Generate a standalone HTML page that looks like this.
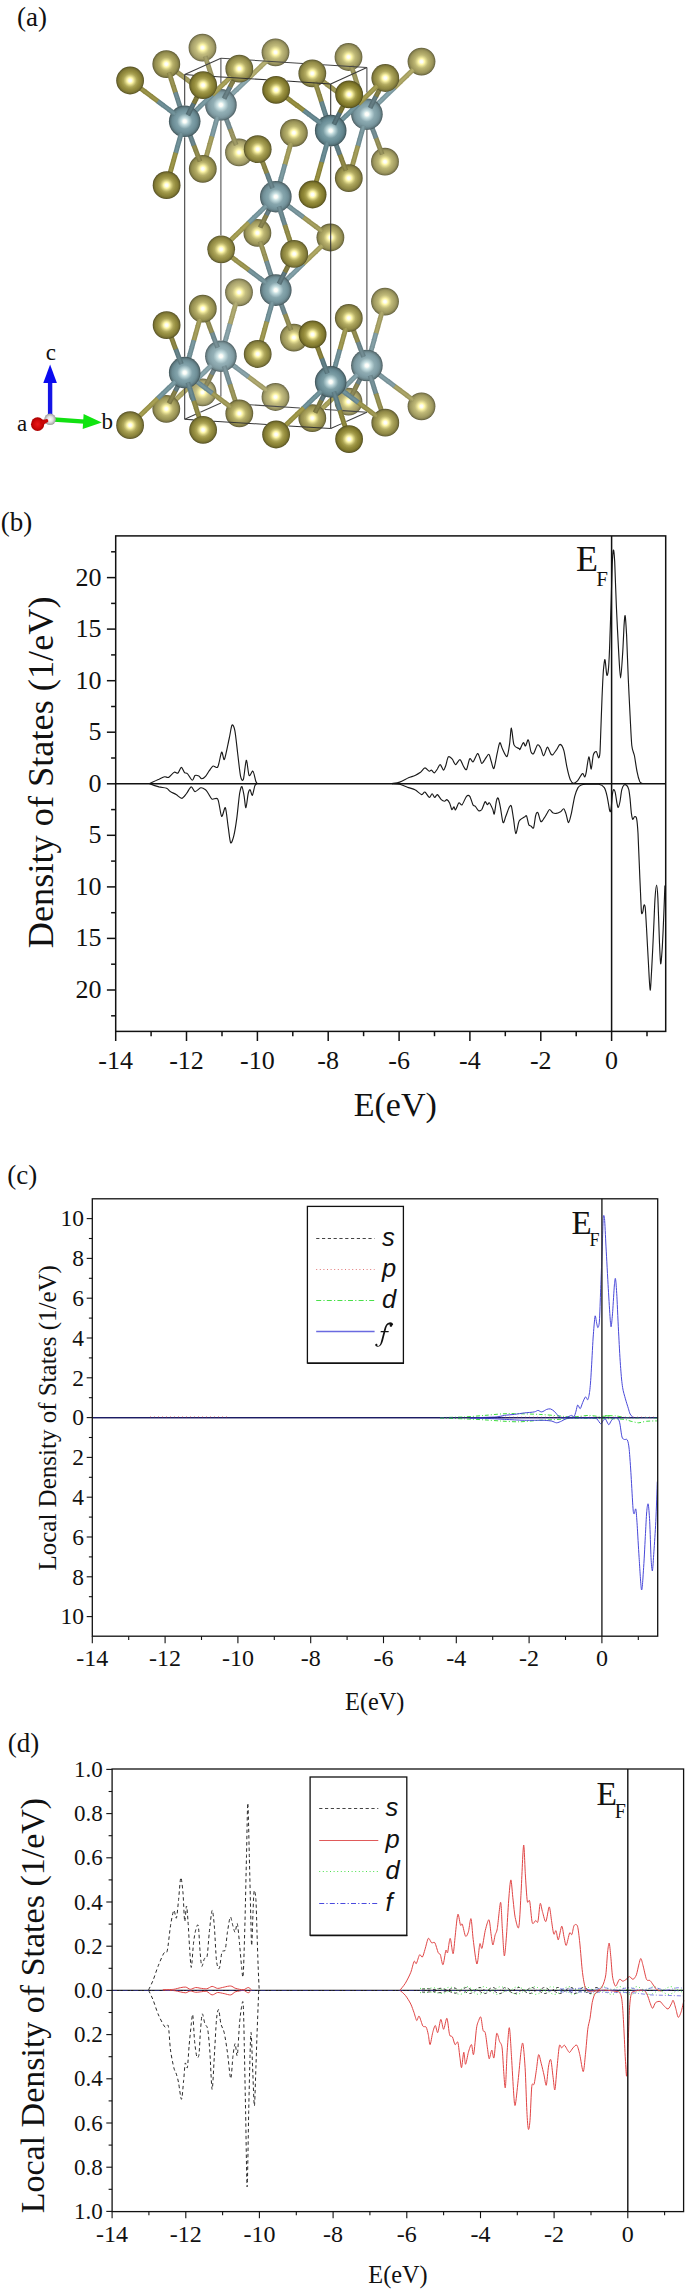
<!DOCTYPE html>
<html><head><meta charset="utf-8"><title>Figure</title><style>html,body{margin:0;padding:0;background:#fff}svg{display:block}</style></head><body><svg width="685" height="2291" viewBox="0 0 685 2291"><defs><radialGradient id="g1"><stop offset="0.00" stop-color="#ffffff"/><stop offset="0.10" stop-color="#fcfdf8"/><stop offset="0.22" stop-color="#c8e0e2"/><stop offset="0.34" stop-color="#a8c4c9"/><stop offset="0.48" stop-color="#83a3ab"/><stop offset="0.64" stop-color="#7799a1"/><stop offset="0.80" stop-color="#6c8b93"/><stop offset="0.91" stop-color="#5a757b"/><stop offset="1.00" stop-color="#3f5155"/></radialGradient><radialGradient id="g2"><stop offset="0.00" stop-color="#ffffff"/><stop offset="0.10" stop-color="#fcfdf8"/><stop offset="0.22" stop-color="#c7dfe2"/><stop offset="0.34" stop-color="#a7c3c8"/><stop offset="0.48" stop-color="#80a1a9"/><stop offset="0.64" stop-color="#74969f"/><stop offset="0.80" stop-color="#698991"/><stop offset="0.91" stop-color="#58737a"/><stop offset="1.00" stop-color="#3d5054"/></radialGradient><radialGradient id="g3"><stop offset="0.00" stop-color="#ffffff"/><stop offset="0.10" stop-color="#fcfdf8"/><stop offset="0.22" stop-color="#c6dee1"/><stop offset="0.34" stop-color="#a4c1c6"/><stop offset="0.48" stop-color="#7d9fa6"/><stop offset="0.64" stop-color="#70939c"/><stop offset="0.80" stop-color="#65868f"/><stop offset="0.91" stop-color="#557178"/><stop offset="1.00" stop-color="#3b4e53"/></radialGradient><radialGradient id="g4"><stop offset="0.00" stop-color="#ffffff"/><stop offset="0.10" stop-color="#fcfdf8"/><stop offset="0.22" stop-color="#c5dee0"/><stop offset="0.34" stop-color="#a3c0c5"/><stop offset="0.48" stop-color="#7a9da4"/><stop offset="0.64" stop-color="#6d919a"/><stop offset="0.80" stop-color="#62848c"/><stop offset="0.91" stop-color="#526f76"/><stop offset="1.00" stop-color="#394d52"/></radialGradient><radialGradient id="g5"><stop offset="0.00" stop-color="#ffffff"/><stop offset="0.10" stop-color="#fdfdf8"/><stop offset="0.22" stop-color="#cee4e6"/><stop offset="0.34" stop-color="#b4cdd1"/><stop offset="0.48" stop-color="#95b1b7"/><stop offset="0.64" stop-color="#8ba7ae"/><stop offset="0.80" stop-color="#7f9aa0"/><stop offset="0.91" stop-color="#6a8186"/><stop offset="1.00" stop-color="#49595d"/></radialGradient><radialGradient id="g6"><stop offset="0.00" stop-color="#ffffff"/><stop offset="0.10" stop-color="#fdfdf8"/><stop offset="0.22" stop-color="#cde4e6"/><stop offset="0.34" stop-color="#b2cbcf"/><stop offset="0.48" stop-color="#92afb5"/><stop offset="0.64" stop-color="#88a5ac"/><stop offset="0.80" stop-color="#7c979e"/><stop offset="0.91" stop-color="#687f85"/><stop offset="1.00" stop-color="#48585c"/></radialGradient><radialGradient id="g7"><stop offset="0.00" stop-color="#ffffff"/><stop offset="0.10" stop-color="#fcfdf8"/><stop offset="0.22" stop-color="#cce3e5"/><stop offset="0.34" stop-color="#b0cace"/><stop offset="0.48" stop-color="#8facb2"/><stop offset="0.64" stop-color="#84a2aa"/><stop offset="0.80" stop-color="#78959c"/><stop offset="0.91" stop-color="#657d82"/><stop offset="1.00" stop-color="#46565a"/></radialGradient><radialGradient id="g8"><stop offset="0.00" stop-color="#ffffff"/><stop offset="0.10" stop-color="#fcfdf8"/><stop offset="0.22" stop-color="#cbe2e4"/><stop offset="0.34" stop-color="#aec8cd"/><stop offset="0.48" stop-color="#8caab1"/><stop offset="0.64" stop-color="#81a0a7"/><stop offset="0.80" stop-color="#75929a"/><stop offset="0.91" stop-color="#627b81"/><stop offset="1.00" stop-color="#445559"/></radialGradient><radialGradient id="g9"><stop offset="0.00" stop-color="#ffffff"/><stop offset="0.10" stop-color="#fcfdf8"/><stop offset="0.22" stop-color="#c9e1e3"/><stop offset="0.34" stop-color="#abc6cb"/><stop offset="0.48" stop-color="#88a7ae"/><stop offset="0.64" stop-color="#7c9da4"/><stop offset="0.80" stop-color="#718f97"/><stop offset="0.91" stop-color="#5f787e"/><stop offset="1.00" stop-color="#425357"/></radialGradient><radialGradient id="g10"><stop offset="0.00" stop-color="#ffffff"/><stop offset="0.10" stop-color="#fcfdf8"/><stop offset="0.22" stop-color="#c9e1e3"/><stop offset="0.34" stop-color="#abc6ca"/><stop offset="0.48" stop-color="#87a6ad"/><stop offset="0.64" stop-color="#7b9ca4"/><stop offset="0.80" stop-color="#708e96"/><stop offset="0.91" stop-color="#5e777e"/><stop offset="1.00" stop-color="#415357"/></radialGradient><radialGradient id="g11"><stop offset="0.00" stop-color="#ffffff"/><stop offset="0.10" stop-color="#fdfdf6"/><stop offset="0.22" stop-color="#fdf6a8"/><stop offset="0.34" stop-color="#d6cf82"/><stop offset="0.48" stop-color="#b0a85c"/><stop offset="0.64" stop-color="#9b9347"/><stop offset="0.80" stop-color="#8b843d"/><stop offset="0.91" stop-color="#746e33"/><stop offset="1.00" stop-color="#514c23"/></radialGradient><radialGradient id="g12"><stop offset="0.00" stop-color="#ffffff"/><stop offset="0.10" stop-color="#fdfdf6"/><stop offset="0.22" stop-color="#fdf6a8"/><stop offset="0.34" stop-color="#d5ce80"/><stop offset="0.48" stop-color="#ada657"/><stop offset="0.64" stop-color="#989041"/><stop offset="0.80" stop-color="#888038"/><stop offset="0.91" stop-color="#726c2f"/><stop offset="1.00" stop-color="#4f4b20"/></radialGradient><radialGradient id="g13"><stop offset="0.00" stop-color="#ffffff"/><stop offset="0.10" stop-color="#fdfdf6"/><stop offset="0.22" stop-color="#fdf6a8"/><stop offset="0.34" stop-color="#d5ce80"/><stop offset="0.48" stop-color="#aea658"/><stop offset="0.64" stop-color="#989042"/><stop offset="0.80" stop-color="#888139"/><stop offset="0.91" stop-color="#726c2f"/><stop offset="1.00" stop-color="#4f4b21"/></radialGradient><radialGradient id="g14"><stop offset="0.00" stop-color="#ffffff"/><stop offset="0.10" stop-color="#fdfdf6"/><stop offset="0.22" stop-color="#fdf6a8"/><stop offset="0.34" stop-color="#d4cd7e"/><stop offset="0.48" stop-color="#aca454"/><stop offset="0.64" stop-color="#958d3d"/><stop offset="0.80" stop-color="#867e33"/><stop offset="0.91" stop-color="#706a2b"/><stop offset="1.00" stop-color="#4e491e"/></radialGradient><radialGradient id="g15"><stop offset="0.00" stop-color="#ffffff"/><stop offset="0.10" stop-color="#fdfdf6"/><stop offset="0.22" stop-color="#fdf6a8"/><stop offset="0.34" stop-color="#d4cd7e"/><stop offset="0.48" stop-color="#aca455"/><stop offset="0.64" stop-color="#968e3e"/><stop offset="0.80" stop-color="#867e34"/><stop offset="0.91" stop-color="#706a2c"/><stop offset="1.00" stop-color="#4e491e"/></radialGradient><radialGradient id="g16"><stop offset="0.00" stop-color="#ffffff"/><stop offset="0.10" stop-color="#fdfdf6"/><stop offset="0.22" stop-color="#fdf6a8"/><stop offset="0.34" stop-color="#d3cc7c"/><stop offset="0.48" stop-color="#aaa251"/><stop offset="0.64" stop-color="#938a39"/><stop offset="0.80" stop-color="#837b2f"/><stop offset="0.91" stop-color="#6e6728"/><stop offset="1.00" stop-color="#4c481b"/></radialGradient><radialGradient id="g17"><stop offset="0.00" stop-color="#ffffff"/><stop offset="0.10" stop-color="#fdfdf6"/><stop offset="0.22" stop-color="#fdf6a8"/><stop offset="0.34" stop-color="#d3cc7d"/><stop offset="0.48" stop-color="#aaa251"/><stop offset="0.64" stop-color="#938b3a"/><stop offset="0.80" stop-color="#847c30"/><stop offset="0.91" stop-color="#6e6828"/><stop offset="1.00" stop-color="#4c481c"/></radialGradient><radialGradient id="g18"><stop offset="0.00" stop-color="#ffffff"/><stop offset="0.10" stop-color="#fdfcf6"/><stop offset="0.22" stop-color="#fdf6a8"/><stop offset="0.34" stop-color="#d2cb7a"/><stop offset="0.48" stop-color="#a8a04d"/><stop offset="0.64" stop-color="#908834"/><stop offset="0.80" stop-color="#81792b"/><stop offset="0.91" stop-color="#6c6524"/><stop offset="1.00" stop-color="#4b4619"/></radialGradient><radialGradient id="g19"><stop offset="0.00" stop-color="#ffffff"/><stop offset="0.10" stop-color="#fdfdf7"/><stop offset="0.22" stop-color="#fef7a9"/><stop offset="0.34" stop-color="#dcd58c"/><stop offset="0.48" stop-color="#bbb46f"/><stop offset="0.64" stop-color="#a8a25f"/><stop offset="0.80" stop-color="#989255"/><stop offset="0.91" stop-color="#807a47"/><stop offset="1.00" stop-color="#585531"/></radialGradient><radialGradient id="g20"><stop offset="0.00" stop-color="#ffffff"/><stop offset="0.10" stop-color="#fdfdf7"/><stop offset="0.22" stop-color="#fef7a9"/><stop offset="0.34" stop-color="#dbd48a"/><stop offset="0.48" stop-color="#b8b16b"/><stop offset="0.64" stop-color="#a59e5a"/><stop offset="0.80" stop-color="#958f50"/><stop offset="0.91" stop-color="#7d7843"/><stop offset="1.00" stop-color="#57532e"/></radialGradient><radialGradient id="g21"><stop offset="0.00" stop-color="#ffffff"/><stop offset="0.10" stop-color="#fdfdf7"/><stop offset="0.22" stop-color="#fef7a9"/><stop offset="0.34" stop-color="#dbd48a"/><stop offset="0.48" stop-color="#b9b26c"/><stop offset="0.64" stop-color="#a69f5b"/><stop offset="0.80" stop-color="#968f51"/><stop offset="0.91" stop-color="#7e7844"/><stop offset="1.00" stop-color="#57532f"/></radialGradient><radialGradient id="g22"><stop offset="0.00" stop-color="#ffffff"/><stop offset="0.10" stop-color="#fdfdf7"/><stop offset="0.22" stop-color="#fef7a9"/><stop offset="0.34" stop-color="#dad388"/><stop offset="0.48" stop-color="#b6af68"/><stop offset="0.64" stop-color="#a39c56"/><stop offset="0.80" stop-color="#938c4c"/><stop offset="0.91" stop-color="#7b763f"/><stop offset="1.00" stop-color="#55522c"/></radialGradient><radialGradient id="g23"><stop offset="0.00" stop-color="#ffffff"/><stop offset="0.10" stop-color="#fdfdf7"/><stop offset="0.22" stop-color="#fef7a9"/><stop offset="0.34" stop-color="#dad388"/><stop offset="0.48" stop-color="#b7b068"/><stop offset="0.64" stop-color="#a49c57"/><stop offset="0.80" stop-color="#948d4d"/><stop offset="0.91" stop-color="#7c7640"/><stop offset="1.00" stop-color="#56522c"/></radialGradient><radialGradient id="g24"><stop offset="0.00" stop-color="#ffffff"/><stop offset="0.10" stop-color="#fdfdf7"/><stop offset="0.22" stop-color="#fef7a9"/><stop offset="0.34" stop-color="#d9d286"/><stop offset="0.48" stop-color="#b5ad64"/><stop offset="0.64" stop-color="#a19951"/><stop offset="0.80" stop-color="#918a47"/><stop offset="0.91" stop-color="#79743c"/><stop offset="1.00" stop-color="#545029"/></radialGradient><radialGradient id="g25"><stop offset="0.00" stop-color="#ffffff"/><stop offset="0.10" stop-color="#fdfdf7"/><stop offset="0.22" stop-color="#fef7a9"/><stop offset="0.34" stop-color="#d9d287"/><stop offset="0.48" stop-color="#b5ae65"/><stop offset="0.64" stop-color="#a19a52"/><stop offset="0.80" stop-color="#918a48"/><stop offset="0.91" stop-color="#7a743d"/><stop offset="1.00" stop-color="#54502a"/></radialGradient><radialGradient id="g26"><stop offset="0.00" stop-color="#ffffff"/><stop offset="0.10" stop-color="#fdfdf6"/><stop offset="0.22" stop-color="#fef7a9"/><stop offset="0.34" stop-color="#d8d184"/><stop offset="0.48" stop-color="#b3ab61"/><stop offset="0.64" stop-color="#9e974d"/><stop offset="0.80" stop-color="#8e8743"/><stop offset="0.91" stop-color="#777138"/><stop offset="1.00" stop-color="#534f27"/></radialGradient><radialGradient id="g27"><stop offset="0.00" stop-color="#ffffff"/><stop offset="0.10" stop-color="#fdfdf7"/><stop offset="0.22" stop-color="#fef7a9"/><stop offset="0.34" stop-color="#e2db96"/><stop offset="0.48" stop-color="#c6c083"/><stop offset="0.64" stop-color="#b6b078"/><stop offset="0.80" stop-color="#a6a16d"/><stop offset="0.91" stop-color="#8b875c"/><stop offset="1.00" stop-color="#605d3f"/></radialGradient><radialGradient id="g28"><stop offset="0.00" stop-color="#ffffff"/><stop offset="0.10" stop-color="#fdfdf7"/><stop offset="0.22" stop-color="#fef7a9"/><stop offset="0.34" stop-color="#e0da94"/><stop offset="0.48" stop-color="#c3bd7e"/><stop offset="0.64" stop-color="#b3ad73"/><stop offset="0.80" stop-color="#a39d68"/><stop offset="0.91" stop-color="#898457"/><stop offset="1.00" stop-color="#5f5b3c"/></radialGradient><radialGradient id="g29"><stop offset="0.00" stop-color="#ffffff"/><stop offset="0.10" stop-color="#fdfdf7"/><stop offset="0.22" stop-color="#fef7a9"/><stop offset="0.34" stop-color="#e1da94"/><stop offset="0.48" stop-color="#c4bd7f"/><stop offset="0.64" stop-color="#b4ae74"/><stop offset="0.80" stop-color="#a39e69"/><stop offset="0.91" stop-color="#898558"/><stop offset="1.00" stop-color="#5f5c3d"/></radialGradient><radialGradient id="g30"><stop offset="0.00" stop-color="#ffffff"/><stop offset="0.10" stop-color="#fdfdf7"/><stop offset="0.22" stop-color="#fef7a9"/><stop offset="0.34" stop-color="#dfd992"/><stop offset="0.48" stop-color="#c1bb7b"/><stop offset="0.64" stop-color="#b1ab6e"/><stop offset="0.80" stop-color="#a19b64"/><stop offset="0.91" stop-color="#878254"/><stop offset="1.00" stop-color="#5d5a3a"/></radialGradient><radialGradient id="g31"><stop offset="0.00" stop-color="#ffffff"/><stop offset="0.10" stop-color="#fdfdf7"/><stop offset="0.22" stop-color="#fef7a9"/><stop offset="0.34" stop-color="#e0d992"/><stop offset="0.48" stop-color="#c2bb7c"/><stop offset="0.64" stop-color="#b1ab6f"/><stop offset="0.80" stop-color="#a19b65"/><stop offset="0.91" stop-color="#878254"/><stop offset="1.00" stop-color="#5e5a3a"/></radialGradient><radialGradient id="g32"><stop offset="0.00" stop-color="#ffffff"/><stop offset="0.10" stop-color="#fdfdf7"/><stop offset="0.22" stop-color="#fef7a9"/><stop offset="0.34" stop-color="#ded890"/><stop offset="0.48" stop-color="#bfb978"/><stop offset="0.64" stop-color="#aea86a"/><stop offset="0.80" stop-color="#9e9860"/><stop offset="0.91" stop-color="#858050"/><stop offset="1.00" stop-color="#5c5837"/></radialGradient><radialGradient id="g33"><stop offset="0.00" stop-color="#ffffff"/><stop offset="0.10" stop-color="#fdfdf7"/><stop offset="0.22" stop-color="#fef7a9"/><stop offset="0.34" stop-color="#dfd891"/><stop offset="0.48" stop-color="#c0b978"/><stop offset="0.64" stop-color="#afa96b"/><stop offset="0.80" stop-color="#9f9960"/><stop offset="0.91" stop-color="#858051"/><stop offset="1.00" stop-color="#5c5938"/></radialGradient><radialGradient id="g34"><stop offset="0.00" stop-color="#ffffff"/><stop offset="0.10" stop-color="#fdfdf7"/><stop offset="0.22" stop-color="#fef7a9"/><stop offset="0.34" stop-color="#ddd78e"/><stop offset="0.48" stop-color="#bdb774"/><stop offset="0.64" stop-color="#aca566"/><stop offset="0.80" stop-color="#9c965b"/><stop offset="0.91" stop-color="#837e4d"/><stop offset="1.00" stop-color="#5a5735"/></radialGradient><radialGradient id="g35"><stop offset="0.00" stop-color="#ffffff"/><stop offset="0.10" stop-color="#fdfdf6"/><stop offset="0.22" stop-color="#fef7a9"/><stop offset="0.34" stop-color="#d8d084"/><stop offset="0.48" stop-color="#b2ab60"/><stop offset="0.64" stop-color="#9e964c"/><stop offset="0.80" stop-color="#8e8742"/><stop offset="0.91" stop-color="#777137"/><stop offset="1.00" stop-color="#524e26"/></radialGradient><radialGradient id="g36"><stop offset="0.00" stop-color="#ffffff"/><stop offset="0.10" stop-color="#fdfdf6"/><stop offset="0.22" stop-color="#fdf6a9"/><stop offset="0.34" stop-color="#d7cf82"/><stop offset="0.48" stop-color="#b0a95c"/><stop offset="0.64" stop-color="#9b9348"/><stop offset="0.80" stop-color="#8b843e"/><stop offset="0.91" stop-color="#756f34"/><stop offset="1.00" stop-color="#514d24"/></radialGradient><radialGradient id="g37"><stop offset="0.00" stop-color="#ffffff"/><stop offset="0.10" stop-color="#fdfdf7"/><stop offset="0.22" stop-color="#fef7a9"/><stop offset="0.34" stop-color="#ddd68e"/><stop offset="0.48" stop-color="#bdb673"/><stop offset="0.64" stop-color="#aba565"/><stop offset="0.80" stop-color="#9b955a"/><stop offset="0.91" stop-color="#827d4c"/><stop offset="1.00" stop-color="#5a5734"/></radialGradient><radialGradient id="g38"><stop offset="0.00" stop-color="#ffffff"/><stop offset="0.10" stop-color="#fdfdf7"/><stop offset="0.22" stop-color="#fef7a9"/><stop offset="0.34" stop-color="#dcd58c"/><stop offset="0.48" stop-color="#bbb470"/><stop offset="0.64" stop-color="#a9a260"/><stop offset="0.80" stop-color="#999356"/><stop offset="0.91" stop-color="#807b48"/><stop offset="1.00" stop-color="#595532"/></radialGradient><radialGradient id="g39"><stop offset="0.00" stop-color="#ffffff"/><stop offset="0.10" stop-color="#fdfdf6"/><stop offset="0.22" stop-color="#fdf6a8"/><stop offset="0.34" stop-color="#d6ce80"/><stop offset="0.48" stop-color="#aea659"/><stop offset="0.64" stop-color="#989143"/><stop offset="0.80" stop-color="#898139"/><stop offset="0.91" stop-color="#736c30"/><stop offset="1.00" stop-color="#4f4b21"/></radialGradient><radialGradient id="g40"><stop offset="0.00" stop-color="#ffffff"/><stop offset="0.10" stop-color="#fdfdf6"/><stop offset="0.22" stop-color="#fdf6a8"/><stop offset="0.34" stop-color="#d5ce7f"/><stop offset="0.48" stop-color="#ada557"/><stop offset="0.64" stop-color="#978f41"/><stop offset="0.80" stop-color="#888037"/><stop offset="0.91" stop-color="#726b2e"/><stop offset="1.00" stop-color="#4f4a20"/></radialGradient><radialGradient id="g41"><stop offset="0.00" stop-color="#ffffff"/><stop offset="0.10" stop-color="#fdfdf6"/><stop offset="0.22" stop-color="#fdf6a8"/><stop offset="0.34" stop-color="#d4cc7d"/><stop offset="0.48" stop-color="#aaa252"/><stop offset="0.64" stop-color="#948b3a"/><stop offset="0.80" stop-color="#847c31"/><stop offset="0.91" stop-color="#6f6829"/><stop offset="1.00" stop-color="#4d481c"/></radialGradient><radialGradient id="g42"><stop offset="0.00" stop-color="#ffffff"/><stop offset="0.10" stop-color="#fdfdf6"/><stop offset="0.22" stop-color="#fdf6a8"/><stop offset="0.34" stop-color="#d3cc7c"/><stop offset="0.48" stop-color="#a9a150"/><stop offset="0.64" stop-color="#928a38"/><stop offset="0.80" stop-color="#837b2f"/><stop offset="0.91" stop-color="#6e6727"/><stop offset="1.00" stop-color="#4c471b"/></radialGradient><radialGradient id="g43"><stop offset="0.00" stop-color="#ffffff"/><stop offset="0.10" stop-color="#fdfdf7"/><stop offset="0.22" stop-color="#fef7a9"/><stop offset="0.34" stop-color="#dbd48a"/><stop offset="0.48" stop-color="#b9b26c"/><stop offset="0.64" stop-color="#a69f5c"/><stop offset="0.80" stop-color="#969051"/><stop offset="0.91" stop-color="#7e7944"/><stop offset="1.00" stop-color="#57542f"/></radialGradient><radialGradient id="g44"><stop offset="0.00" stop-color="#ffffff"/><stop offset="0.10" stop-color="#fdfdf7"/><stop offset="0.22" stop-color="#fef7a9"/><stop offset="0.34" stop-color="#dbd489"/><stop offset="0.48" stop-color="#b8b16b"/><stop offset="0.64" stop-color="#a59e59"/><stop offset="0.80" stop-color="#958f4f"/><stop offset="0.91" stop-color="#7d7842"/><stop offset="1.00" stop-color="#57532e"/></radialGradient><radialGradient id="g45"><stop offset="0.00" stop-color="#ffffff"/><stop offset="0.10" stop-color="#fdfdf7"/><stop offset="0.22" stop-color="#fef7a9"/><stop offset="0.34" stop-color="#d9d287"/><stop offset="0.48" stop-color="#b5ae65"/><stop offset="0.64" stop-color="#a19a53"/><stop offset="0.80" stop-color="#928b49"/><stop offset="0.91" stop-color="#7a743d"/><stop offset="1.00" stop-color="#55512a"/></radialGradient><radialGradient id="g46"><stop offset="0.00" stop-color="#ffffff"/><stop offset="0.10" stop-color="#fdfdf7"/><stop offset="0.22" stop-color="#fef7a9"/><stop offset="0.34" stop-color="#d9d286"/><stop offset="0.48" stop-color="#b4ad64"/><stop offset="0.64" stop-color="#a09951"/><stop offset="0.80" stop-color="#908947"/><stop offset="0.91" stop-color="#79733b"/><stop offset="1.00" stop-color="#545029"/></radialGradient><radialGradient id="g47"><stop offset="0.00" stop-color="#ffffff"/><stop offset="0.10" stop-color="#fdfdf7"/><stop offset="0.22" stop-color="#fef7a9"/><stop offset="0.34" stop-color="#e1da94"/><stop offset="0.48" stop-color="#c4be80"/><stop offset="0.64" stop-color="#b4ae74"/><stop offset="0.80" stop-color="#a49e6a"/><stop offset="0.91" stop-color="#898559"/><stop offset="1.00" stop-color="#5f5c3d"/></radialGradient><radialGradient id="g48"><stop offset="0.00" stop-color="#ffffff"/><stop offset="0.10" stop-color="#fdfdf7"/><stop offset="0.22" stop-color="#fef7a9"/><stop offset="0.34" stop-color="#e0da93"/><stop offset="0.48" stop-color="#c3bd7e"/><stop offset="0.64" stop-color="#b3ad72"/><stop offset="0.80" stop-color="#a39d67"/><stop offset="0.91" stop-color="#888457"/><stop offset="1.00" stop-color="#5e5b3c"/></radialGradient><radialGradient id="g49"><stop offset="0.00" stop-color="#ffffff"/><stop offset="0.10" stop-color="#fdfdf7"/><stop offset="0.22" stop-color="#fef7a9"/><stop offset="0.34" stop-color="#dfd891"/><stop offset="0.48" stop-color="#c0ba79"/><stop offset="0.64" stop-color="#afa96c"/><stop offset="0.80" stop-color="#9f9961"/><stop offset="0.91" stop-color="#858151"/><stop offset="1.00" stop-color="#5c5938"/></radialGradient><radialGradient id="g50"><stop offset="0.00" stop-color="#ffffff"/><stop offset="0.10" stop-color="#fdfdf7"/><stop offset="0.22" stop-color="#fef7a9"/><stop offset="0.34" stop-color="#ded890"/><stop offset="0.48" stop-color="#bfb977"/><stop offset="0.64" stop-color="#aea86a"/><stop offset="0.80" stop-color="#9e985f"/><stop offset="0.91" stop-color="#847f50"/><stop offset="1.00" stop-color="#5c5837"/></radialGradient><radialGradient id="g51"><stop offset="0.00" stop-color="#ffffff"/><stop offset="0.10" stop-color="#fdfdf6"/><stop offset="0.22" stop-color="#fef7a9"/><stop offset="0.34" stop-color="#d7d084"/><stop offset="0.48" stop-color="#b2aa5f"/><stop offset="0.64" stop-color="#9d964b"/><stop offset="0.80" stop-color="#8d8642"/><stop offset="0.91" stop-color="#777137"/><stop offset="1.00" stop-color="#524e26"/></radialGradient><radialGradient id="g52"><stop offset="0.00" stop-color="#ffffff"/><stop offset="0.10" stop-color="#fdfdf6"/><stop offset="0.22" stop-color="#fdf6a9"/><stop offset="0.34" stop-color="#d7cf82"/><stop offset="0.48" stop-color="#b1a95d"/><stop offset="0.64" stop-color="#9b9448"/><stop offset="0.80" stop-color="#8c843e"/><stop offset="0.91" stop-color="#756f34"/><stop offset="1.00" stop-color="#514d24"/></radialGradient><radialGradient id="g53"><stop offset="0.00" stop-color="#ffffff"/><stop offset="0.10" stop-color="#fdfdf7"/><stop offset="0.22" stop-color="#fef7a9"/><stop offset="0.34" stop-color="#ddd68e"/><stop offset="0.48" stop-color="#bdb673"/><stop offset="0.64" stop-color="#aba464"/><stop offset="0.80" stop-color="#9b955a"/><stop offset="0.91" stop-color="#827d4b"/><stop offset="1.00" stop-color="#5a5634"/></radialGradient><radialGradient id="g54"><stop offset="0.00" stop-color="#ffffff"/><stop offset="0.10" stop-color="#fdfdf7"/><stop offset="0.22" stop-color="#fef7a9"/><stop offset="0.34" stop-color="#dcd58c"/><stop offset="0.48" stop-color="#bbb570"/><stop offset="0.64" stop-color="#a9a361"/><stop offset="0.80" stop-color="#999357"/><stop offset="0.91" stop-color="#817b49"/><stop offset="1.00" stop-color="#595532"/></radialGradient>
<radialGradient id="go"><stop offset="0" stop-color="#ffffff"/><stop offset="0.5" stop-color="#e0e0e0"/><stop offset="1" stop-color="#9a9a9a"/></radialGradient>
<radialGradient id="gr"><stop offset="0" stop-color="#e81818"/><stop offset="0.6" stop-color="#d00808"/><stop offset="1" stop-color="#a80000"/></radialGradient>
</defs>
<filter id="bl" x="-5%" y="-5%" width="110%" height="110%"><feGaussianBlur stdDeviation="0.45"/></filter>
<g stroke-linecap="butt" fill="none" filter="url(#bl)"><circle cx="202.5" cy="392.4" r="13.9" fill="url(#g27)"/><path d="M207.5 382.5L205.2 387.0" stroke="#837e54" stroke-width="4.9"/><path d="M207.5 382.5L205.2 387.0" stroke="#918d60" stroke-width="2.3"/><path d="M209.7 378.3L207.4 382.8" stroke="#827e53" stroke-width="4.9"/><path d="M209.7 378.3L207.4 382.8" stroke="#918c5f" stroke-width="2.3"/><circle cx="275.5" cy="397.0" r="13.9" fill="url(#g29)"/><path d="M211.8 374.1L209.5 378.6" stroke="#817d52" stroke-width="4.9"/><path d="M211.8 374.1L209.5 378.6" stroke="#908c5e" stroke-width="2.3"/><circle cx="239.0" cy="292.3" r="13.9" fill="url(#g47)"/><path d="M260.5 385.8L267.3 390.9" stroke="#9f9a65" stroke-width="4.9"/><path d="M260.5 385.8L267.3 390.9" stroke="#afaa72" stroke-width="2.3"/><path d="M213.8 370.2L211.6 374.5" stroke="#66797e" stroke-width="4.9"/><path d="M213.8 370.2L211.6 374.5" stroke="#73888c" stroke-width="2.3"/><path d="M233.9 310.2L236.2 302.3" stroke="#a19b66" stroke-width="4.9"/><path d="M233.9 310.2L236.2 302.3" stroke="#b1ac73" stroke-width="2.3"/><path d="M254.2 381.1L261.1 386.2" stroke="#9f9964" stroke-width="4.9"/><path d="M254.2 381.1L261.1 386.2" stroke="#afa971" stroke-width="2.3"/><path d="M231.9 317.4L234.1 309.5" stroke="#a09b65" stroke-width="4.9"/><path d="M231.9 317.4L234.1 309.5" stroke="#b0ab72" stroke-width="2.3"/><path d="M247.9 376.4L254.8 381.5" stroke="#9e9963" stroke-width="4.9"/><path d="M247.9 376.4L254.8 381.5" stroke="#aea970" stroke-width="2.3"/><path d="M215.8 366.3L213.6 370.6" stroke="#65797d" stroke-width="4.9"/><path d="M215.8 366.3L213.6 370.6" stroke="#72878c" stroke-width="2.3"/><path d="M229.9 324.6L232.1 316.7" stroke="#a09a64" stroke-width="4.9"/><path d="M229.9 324.6L232.1 316.7" stroke="#b0aa71" stroke-width="2.3"/><path d="M242.1 372.0L248.5 376.8" stroke="#7c949a" stroke-width="4.9"/><path d="M242.1 372.0L248.5 376.8" stroke="#8aa4aa" stroke-width="2.3"/><path d="M228.0 331.3L230.0 323.9" stroke="#7d969b" stroke-width="4.9"/><path d="M228.0 331.3L230.0 323.9" stroke="#8ba5ac" stroke-width="2.3"/><path d="M217.7 362.4L215.6 366.7" stroke="#64787d" stroke-width="4.9"/><path d="M217.7 362.4L215.6 366.7" stroke="#71868b" stroke-width="2.3"/><circle cx="348.5" cy="401.7" r="13.9" fill="url(#g31)"/><circle cx="239.0" cy="152.4" r="13.9" fill="url(#g48)"/><path d="M236.2 367.6L242.6 372.4" stroke="#7b949a" stroke-width="4.9"/><path d="M236.2 367.6L242.6 372.4" stroke="#89a3aa" stroke-width="2.3"/><path d="M226.1 338.0L228.2 330.6" stroke="#7c959b" stroke-width="4.9"/><path d="M226.1 338.0L228.2 330.6" stroke="#8ba5ab" stroke-width="2.3"/><circle cx="202.5" cy="47.7" r="13.9" fill="url(#g28)"/><path d="M230.4 363.3L236.8 368.0" stroke="#7a9399" stroke-width="4.9"/><path d="M230.4 363.3L236.8 368.0" stroke="#89a3a9" stroke-width="2.3"/><path d="M224.2 344.6L226.3 337.3" stroke="#7b949a" stroke-width="4.9"/><path d="M224.2 344.6L226.3 337.3" stroke="#8aa4aa" stroke-width="2.3"/><path d="M233.9 139.1L236.2 145.0" stroke="#8e8a59" stroke-width="4.9"/><path d="M233.9 139.1L236.2 145.0" stroke="#9e9965" stroke-width="2.3"/><path d="M353.5 391.8L351.2 396.3" stroke="#807b4e" stroke-width="4.9"/><path d="M353.5 391.8L351.2 396.3" stroke="#8e8a5a" stroke-width="2.3"/><circle cx="220.9" cy="356.2" r="15.8" fill="url(#g5)"/><path d="M207.5 63.4L205.2 56.2" stroke="#96915e" stroke-width="4.9"/><path d="M207.5 63.4L205.2 56.2" stroke="#a5a06b" stroke-width="2.3"/><path d="M231.9 133.8L234.1 139.6" stroke="#8e8958" stroke-width="4.9"/><path d="M231.9 133.8L234.1 139.6" stroke="#9d9864" stroke-width="2.3"/><path d="M211.4 365.3L205.0 371.5" stroke="#7d989f" stroke-width="4.9"/><path d="M211.4 365.3L205.0 371.5" stroke="#8ca8af" stroke-width="2.3"/><path d="M209.7 70.0L207.4 62.8" stroke="#95905d" stroke-width="4.9"/><path d="M209.7 70.0L207.4 62.8" stroke="#a59f69" stroke-width="2.3"/><path d="M355.7 387.6L353.4 392.1" stroke="#7f7b4d" stroke-width="4.9"/><path d="M355.7 387.6L353.4 392.1" stroke="#8d8959" stroke-width="2.3"/><path d="M205.6 370.9L199.2 377.1" stroke="#7d989e" stroke-width="4.9"/><path d="M205.6 370.9L199.2 377.1" stroke="#8ba8ae" stroke-width="2.3"/><path d="M229.9 128.4L232.1 134.2" stroke="#8d8857" stroke-width="4.9"/><path d="M229.9 128.4L232.1 134.2" stroke="#9c9763" stroke-width="2.3"/><path d="M199.7 376.6L193.3 382.7" stroke="#7c979e" stroke-width="4.9"/><path d="M199.7 376.6L193.3 382.7" stroke="#8aa7ae" stroke-width="2.3"/><circle cx="421.5" cy="406.3" r="13.9" fill="url(#g33)"/><path d="M224.1 366.1L226.2 372.8" stroke="#70888e" stroke-width="4.9"/><path d="M224.1 366.1L226.2 372.8" stroke="#7e979d" stroke-width="2.3"/><path d="M211.8 76.6L209.5 69.4" stroke="#948f5b" stroke-width="4.9"/><path d="M211.8 76.6L209.5 69.4" stroke="#a49f68" stroke-width="2.3"/><path d="M217.6 347.6L215.5 342.1" stroke="#6a8287" stroke-width="4.9"/><path d="M217.6 347.6L215.5 342.1" stroke="#789096" stroke-width="2.3"/><path d="M193.9 382.2L187.0 388.8" stroke="#a19b5e" stroke-width="4.9"/><path d="M193.9 382.2L187.0 388.8" stroke="#b2ab6a" stroke-width="2.3"/><path d="M357.8 383.4L355.5 387.9" stroke="#7e7a4c" stroke-width="4.9"/><path d="M357.8 383.4L355.5 387.9" stroke="#8d8858" stroke-width="2.3"/><circle cx="385.0" cy="301.6" r="13.9" fill="url(#g49)"/><circle cx="275.5" cy="52.3" r="13.9" fill="url(#g30)"/><path d="M228.0 123.4L230.0 128.9" stroke="#6e8489" stroke-width="4.9"/><path d="M228.0 123.4L230.0 128.9" stroke="#7b9398" stroke-width="2.3"/><path d="M187.6 388.3L180.7 394.9" stroke="#a19b5d" stroke-width="4.9"/><path d="M187.6 388.3L180.7 394.9" stroke="#b1ab69" stroke-width="2.3"/><path d="M226.1 372.2L228.2 378.9" stroke="#6f888d" stroke-width="4.9"/><path d="M226.1 372.2L228.2 378.9" stroke="#7d979d" stroke-width="2.3"/><path d="M213.8 82.7L211.6 76.0" stroke="#738b90" stroke-width="4.9"/><path d="M213.8 82.7L211.6 76.0" stroke="#819aa0" stroke-width="2.3"/><path d="M215.7 342.6L213.6 337.2" stroke="#6a8187" stroke-width="4.9"/><path d="M215.7 342.6L213.6 337.2" stroke="#779096" stroke-width="2.3"/><path d="M181.3 394.3L174.5 400.9" stroke="#a09a5c" stroke-width="4.9"/><path d="M181.3 394.3L174.5 400.9" stroke="#b1aa68" stroke-width="2.3"/><path d="M406.5 395.1L413.3 400.2" stroke="#9b965d" stroke-width="4.9"/><path d="M406.5 395.1L413.3 400.2" stroke="#aca66a" stroke-width="2.3"/><path d="M260.5 66.8L267.3 60.2" stroke="#a5a065" stroke-width="4.9"/><path d="M260.5 66.8L267.3 60.2" stroke="#b6b073" stroke-width="2.3"/><path d="M226.1 118.5L228.2 123.9" stroke="#6d8389" stroke-width="4.9"/><path d="M226.1 118.5L228.2 123.9" stroke="#7a9298" stroke-width="2.3"/><path d="M359.8 379.5L357.6 383.8" stroke="#61767b" stroke-width="4.9"/><path d="M359.8 379.5L357.6 383.8" stroke="#6e8489" stroke-width="2.3"/><path d="M228.0 378.4L230.2 385.1" stroke="#6e878d" stroke-width="4.9"/><path d="M228.0 378.4L230.2 385.1" stroke="#7c969c" stroke-width="2.3"/><path d="M379.9 319.5L382.2 311.6" stroke="#9d975f" stroke-width="4.9"/><path d="M379.9 319.5L382.2 311.6" stroke="#ada76b" stroke-width="2.3"/><path d="M215.7 88.9L213.6 82.2" stroke="#728a90" stroke-width="4.9"/><path d="M215.7 88.9L213.6 82.2" stroke="#80999f" stroke-width="2.3"/><path d="M254.2 72.8L261.1 66.2" stroke="#a59f65" stroke-width="4.9"/><path d="M254.2 72.8L261.1 66.2" stroke="#b5af72" stroke-width="2.3"/><path d="M213.8 337.7L211.8 332.2" stroke="#698086" stroke-width="4.9"/><path d="M213.8 337.7L211.8 332.2" stroke="#768f95" stroke-width="2.3"/><path d="M400.2 390.4L407.1 395.5" stroke="#9b955c" stroke-width="4.9"/><path d="M400.2 390.4L407.1 395.5" stroke="#aba569" stroke-width="2.3"/><circle cx="166.3" cy="408.8" r="13.9" fill="url(#g19)"/><path d="M247.9 78.9L254.8 72.3" stroke="#a49e64" stroke-width="4.9"/><path d="M247.9 78.9L254.8 72.3" stroke="#b5af71" stroke-width="2.3"/><path d="M377.9 326.7L380.1 318.8" stroke="#9c975d" stroke-width="4.9"/><path d="M377.9 326.7L380.1 318.8" stroke="#ada76a" stroke-width="2.3"/><path d="M224.2 113.5L226.3 119.0" stroke="#6c8388" stroke-width="4.9"/><path d="M224.2 113.5L226.3 119.0" stroke="#799297" stroke-width="2.3"/><path d="M230.0 384.5L232.3 391.7" stroke="#908a52" stroke-width="4.9"/><path d="M230.0 384.5L232.3 391.7" stroke="#9f995e" stroke-width="2.3"/><path d="M217.7 95.0L215.6 88.3" stroke="#71898f" stroke-width="4.9"/><path d="M217.7 95.0L215.6 88.3" stroke="#7f989f" stroke-width="2.3"/><path d="M393.9 385.7L400.8 390.8" stroke="#9a955b" stroke-width="4.9"/><path d="M393.9 385.7L400.8 390.8" stroke="#aaa568" stroke-width="2.3"/><path d="M361.8 375.6L359.6 379.9" stroke="#60757a" stroke-width="4.9"/><path d="M361.8 375.6L359.6 379.9" stroke="#6d8388" stroke-width="2.3"/><path d="M242.1 84.5L248.5 78.4" stroke="#7f9aa0" stroke-width="4.9"/><path d="M242.1 84.5L248.5 78.4" stroke="#8eaab0" stroke-width="2.3"/><circle cx="293.9" cy="337.6" r="13.9" fill="url(#g53)"/><path d="M211.9 332.7L209.7 326.9" stroke="#89844e" stroke-width="4.9"/><path d="M211.9 332.7L209.7 326.9" stroke="#98935a" stroke-width="2.3"/><path d="M375.9 333.9L378.1 326.0" stroke="#9c965c" stroke-width="4.9"/><path d="M375.9 333.9L378.1 326.0" stroke="#aca669" stroke-width="2.3"/><path d="M236.2 90.2L242.6 84.0" stroke="#7e999f" stroke-width="4.9"/><path d="M236.2 90.2L242.6 84.0" stroke="#8da9b0" stroke-width="2.3"/><circle cx="257.4" cy="232.9" r="13.9" fill="url(#g37)"/><path d="M388.1 381.3L394.5 386.1" stroke="#769096" stroke-width="4.9"/><path d="M388.1 381.3L394.5 386.1" stroke="#849fa6" stroke-width="2.3"/><path d="M232.1 391.1L234.4 398.3" stroke="#8f8a51" stroke-width="4.9"/><path d="M232.1 391.1L234.4 398.3" stroke="#9e995d" stroke-width="2.3"/><path d="M230.4 95.8L236.8 89.6" stroke="#7e999f" stroke-width="4.9"/><path d="M230.4 95.8L236.8 89.6" stroke="#8ca8af" stroke-width="2.3"/><path d="M374.0 340.6L376.0 333.2" stroke="#779198" stroke-width="4.9"/><path d="M374.0 340.6L376.0 333.2" stroke="#85a1a7" stroke-width="2.3"/><path d="M363.7 371.7L361.6 376.0" stroke="#5f757a" stroke-width="4.9"/><path d="M363.7 371.7L361.6 376.0" stroke="#6c8388" stroke-width="2.3"/><path d="M209.9 327.3L207.7 321.5" stroke="#88834d" stroke-width="4.9"/><path d="M209.9 327.3L207.7 321.5" stroke="#979259" stroke-width="2.3"/><circle cx="385.0" cy="161.7" r="13.9" fill="url(#g50)"/><path d="M382.2 376.9L388.6 381.7" stroke="#758f96" stroke-width="4.9"/><path d="M382.2 376.9L388.6 381.7" stroke="#839fa5" stroke-width="2.3"/><path d="M171.3 398.9L169.0 403.4" stroke="#7a7543" stroke-width="4.9"/><path d="M171.3 398.9L169.0 403.4" stroke="#88834f" stroke-width="2.3"/><path d="M372.1 347.3L374.2 339.9" stroke="#769197" stroke-width="4.9"/><path d="M372.1 347.3L374.2 339.9" stroke="#85a0a7" stroke-width="2.3"/><path d="M234.3 397.7L236.6 404.9" stroke="#8e8950" stroke-width="4.9"/><path d="M234.3 397.7L236.6 404.9" stroke="#9e985c" stroke-width="2.3"/><circle cx="220.9" cy="104.9" r="15.8" fill="url(#g6)"/><circle cx="348.5" cy="57.0" r="13.9" fill="url(#g32)"/><path d="M288.8 324.3L291.1 330.2" stroke="#89844e" stroke-width="4.9"/><path d="M288.8 324.3L291.1 330.2" stroke="#98935a" stroke-width="2.3"/><path d="M376.4 372.6L382.8 377.3" stroke="#758f95" stroke-width="4.9"/><path d="M376.4 372.6L382.8 377.3" stroke="#829ea5" stroke-width="2.3"/><path d="M207.9 322.0L205.6 316.1" stroke="#88834c" stroke-width="4.9"/><path d="M207.9 322.0L205.6 316.1" stroke="#979158" stroke-width="2.3"/><path d="M370.2 353.9L372.3 346.6" stroke="#769096" stroke-width="4.9"/><path d="M370.2 353.9L372.3 346.6" stroke="#84a0a6" stroke-width="2.3"/><path d="M262.4 248.6L260.1 241.4" stroke="#908b53" stroke-width="4.9"/><path d="M262.4 248.6L260.1 241.4" stroke="#9f9a5f" stroke-width="2.3"/><path d="M173.5 394.7L171.2 399.2" stroke="#797542" stroke-width="4.9"/><path d="M173.5 394.7L171.2 399.2" stroke="#88834d" stroke-width="2.3"/><path d="M262.4 223.0L260.1 227.5" stroke="#7c7747" stroke-width="4.9"/><path d="M262.4 223.0L260.1 227.5" stroke="#8a8552" stroke-width="2.3"/><path d="M286.8 319.0L289.0 324.8" stroke="#88834d" stroke-width="4.9"/><path d="M286.8 319.0L289.0 324.8" stroke="#979259" stroke-width="2.3"/><path d="M217.6 116.5L215.5 123.8" stroke="#759096" stroke-width="4.9"/><path d="M217.6 116.5L215.5 123.8" stroke="#839fa6" stroke-width="2.3"/><path d="M379.9 148.4L382.2 154.3" stroke="#8b8652" stroke-width="4.9"/><path d="M379.9 148.4L382.2 154.3" stroke="#9a955e" stroke-width="2.3"/><path d="M264.6 255.2L262.3 248.0" stroke="#8f8a51" stroke-width="4.9"/><path d="M264.6 255.2L262.3 248.0" stroke="#9f995d" stroke-width="2.3"/><path d="M211.4 97.8L205.0 93.1" stroke="#748f95" stroke-width="4.9"/><path d="M211.4 97.8L205.0 93.1" stroke="#829ea5" stroke-width="2.3"/><circle cx="239.3" cy="413.4" r="13.9" fill="url(#g21)"/><circle cx="366.9" cy="365.5" r="15.8" fill="url(#g7)"/><path d="M353.5 72.7L351.2 65.5" stroke="#928d57" stroke-width="4.9"/><path d="M353.5 72.7L351.2 65.5" stroke="#a29c63" stroke-width="2.3"/><path d="M215.7 123.1L213.6 130.5" stroke="#748f96" stroke-width="4.9"/><path d="M215.7 123.1L213.6 130.5" stroke="#829fa5" stroke-width="2.3"/><path d="M284.8 313.6L287.0 319.4" stroke="#88834c" stroke-width="4.9"/><path d="M284.8 313.6L287.0 319.4" stroke="#979158" stroke-width="2.3"/><path d="M205.6 93.5L199.2 88.7" stroke="#748e95" stroke-width="4.9"/><path d="M205.6 93.5L199.2 88.7" stroke="#829ea4" stroke-width="2.3"/><path d="M175.6 390.5L173.3 395.0" stroke="#797441" stroke-width="4.9"/><path d="M175.6 390.5L173.3 395.0" stroke="#87824c" stroke-width="2.3"/><circle cx="202.8" cy="308.7" r="13.9" fill="url(#g43)"/><path d="M264.6 218.8L262.3 223.3" stroke="#7b7746" stroke-width="4.9"/><path d="M264.6 218.8L262.3 223.3" stroke="#8a8551" stroke-width="2.3"/><path d="M266.7 261.8L264.4 254.6" stroke="#8f8950" stroke-width="4.9"/><path d="M266.7 261.8L264.4 254.6" stroke="#9e985c" stroke-width="2.3"/><path d="M377.9 143.1L380.1 148.9" stroke="#8a8551" stroke-width="4.9"/><path d="M377.9 143.1L380.1 148.9" stroke="#99945d" stroke-width="2.3"/><path d="M224.1 98.7L226.2 94.4" stroke="#5e7479" stroke-width="4.9"/><path d="M224.1 98.7L226.2 94.4" stroke="#6b8287" stroke-width="2.3"/><path d="M213.8 129.8L211.8 137.2" stroke="#748f95" stroke-width="4.9"/><path d="M213.8 129.8L211.8 137.2" stroke="#829ea5" stroke-width="2.3"/><path d="M357.4 374.6L351.0 380.8" stroke="#77949b" stroke-width="4.9"/><path d="M357.4 374.6L351.0 380.8" stroke="#85a3ab" stroke-width="2.3"/><path d="M355.7 79.3L353.4 72.1" stroke="#918c56" stroke-width="4.9"/><path d="M355.7 79.3L353.4 72.1" stroke="#a19c62" stroke-width="2.3"/><path d="M199.7 89.1L193.3 84.3" stroke="#738e94" stroke-width="4.9"/><path d="M199.7 89.1L193.3 84.3" stroke="#819da4" stroke-width="2.3"/><circle cx="330.4" cy="237.5" r="13.9" fill="url(#g38)"/><path d="M224.3 402.2L231.1 407.3" stroke="#958f50" stroke-width="4.9"/><path d="M224.3 402.2L231.1 407.3" stroke="#a49e5c" stroke-width="2.3"/><path d="M282.9 308.6L284.9 314.1" stroke="#657e84" stroke-width="4.9"/><path d="M282.9 308.6L284.9 314.1" stroke="#728c92" stroke-width="2.3"/><path d="M351.6 380.2L345.2 386.4" stroke="#77939a" stroke-width="4.9"/><path d="M351.6 380.2L345.2 386.4" stroke="#85a3aa" stroke-width="2.3"/><path d="M211.9 136.5L209.7 144.4" stroke="#989356" stroke-width="4.9"/><path d="M211.9 136.5L209.7 144.4" stroke="#a8a262" stroke-width="2.3"/><path d="M268.7 267.9L266.5 261.2" stroke="#6a848a" stroke-width="4.9"/><path d="M268.7 267.9L266.5 261.2" stroke="#78939a" stroke-width="2.3"/><path d="M177.6 386.6L175.4 390.9" stroke="#586f75" stroke-width="4.9"/><path d="M177.6 386.6L175.4 390.9" stroke="#657d83" stroke-width="2.3"/><path d="M375.9 137.7L378.1 143.5" stroke="#8a8550" stroke-width="4.9"/><path d="M375.9 137.7L378.1 143.5" stroke="#99945c" stroke-width="2.3"/><path d="M266.7 214.6L264.4 219.1" stroke="#7b7645" stroke-width="4.9"/><path d="M266.7 214.6L264.4 219.1" stroke="#898450" stroke-width="2.3"/><path d="M197.7 326.6L200.0 318.7" stroke="#969051" stroke-width="4.9"/><path d="M197.7 326.6L200.0 318.7" stroke="#a6a05d" stroke-width="2.3"/><circle cx="293.9" cy="132.8" r="13.9" fill="url(#g54)"/><path d="M345.7 385.9L339.3 392.0" stroke="#76939a" stroke-width="4.9"/><path d="M345.7 385.9L339.3 392.0" stroke="#84a2aa" stroke-width="2.3"/><path d="M226.0 94.8L228.2 90.5" stroke="#5d7378" stroke-width="4.9"/><path d="M226.0 94.8L228.2 90.5" stroke="#6a8186" stroke-width="2.3"/><path d="M193.9 84.7L187.0 79.6" stroke="#979255" stroke-width="4.9"/><path d="M193.9 84.7L187.0 79.6" stroke="#a7a161" stroke-width="2.3"/><path d="M370.1 375.4L372.2 382.1" stroke="#6a848a" stroke-width="4.9"/><path d="M370.1 375.4L372.2 382.1" stroke="#78939a" stroke-width="2.3"/><path d="M357.8 85.9L355.5 78.7" stroke="#918c54" stroke-width="4.9"/><path d="M357.8 85.9L355.5 78.7" stroke="#a09b61" stroke-width="2.3"/><path d="M218.0 397.5L224.9 402.6" stroke="#948e4f" stroke-width="4.9"/><path d="M218.0 397.5L224.9 402.6" stroke="#a49d5b" stroke-width="2.3"/><path d="M315.4 252.0L322.2 245.4" stroke="#9f9959" stroke-width="4.9"/><path d="M315.4 252.0L322.2 245.4" stroke="#afa965" stroke-width="2.3"/><path d="M363.6 356.9L361.5 351.4" stroke="#657e84" stroke-width="4.9"/><path d="M363.6 356.9L361.5 351.4" stroke="#728c93" stroke-width="2.3"/><path d="M209.9 143.7L207.7 151.6" stroke="#989254" stroke-width="4.9"/><path d="M209.9 143.7L207.7 151.6" stroke="#a8a261" stroke-width="2.3"/><path d="M281.0 303.7L283.1 309.1" stroke="#647d83" stroke-width="4.9"/><path d="M281.0 303.7L283.1 309.1" stroke="#728c92" stroke-width="2.3"/><path d="M339.9 391.5L333.0 398.1" stroke="#9d9756" stroke-width="4.9"/><path d="M339.9 391.5L333.0 398.1" stroke="#ada762" stroke-width="2.3"/><path d="M195.7 333.8L197.9 325.9" stroke="#968f50" stroke-width="4.9"/><path d="M195.7 333.8L197.9 325.9" stroke="#a59f5c" stroke-width="2.3"/><path d="M270.6 274.1L268.5 267.4" stroke="#6a848a" stroke-width="4.9"/><path d="M270.6 274.1L268.5 267.4" stroke="#779299" stroke-width="2.3"/><circle cx="421.5" cy="61.6" r="13.9" fill="url(#g34)"/><path d="M309.1 258.0L316.0 251.4" stroke="#9e9858" stroke-width="4.9"/><path d="M309.1 258.0L316.0 251.4" stroke="#afa864" stroke-width="2.3"/><path d="M315.4 226.3L322.2 231.4" stroke="#979154" stroke-width="4.9"/><path d="M315.4 226.3L322.2 231.4" stroke="#a7a161" stroke-width="2.3"/><path d="M187.6 80.0L180.7 74.9" stroke="#979154" stroke-width="4.9"/><path d="M187.6 80.0L180.7 74.9" stroke="#a7a060" stroke-width="2.3"/><path d="M374.0 132.7L376.0 138.2" stroke="#688086" stroke-width="4.9"/><path d="M374.0 132.7L376.0 138.2" stroke="#768f95" stroke-width="2.3"/><path d="M333.6 397.6L326.7 404.2" stroke="#9d9755" stroke-width="4.9"/><path d="M333.6 397.6L326.7 404.2" stroke="#ada661" stroke-width="2.3"/><path d="M211.7 392.8L218.6 397.9" stroke="#948e4e" stroke-width="4.9"/><path d="M211.7 392.8L218.6 397.9" stroke="#a39d5a" stroke-width="2.3"/><path d="M179.6 382.7L177.4 387.0" stroke="#586f74" stroke-width="4.9"/><path d="M179.6 382.7L177.4 387.0" stroke="#647d82" stroke-width="2.3"/><path d="M372.1 381.5L374.2 388.2" stroke="#69848a" stroke-width="4.9"/><path d="M372.1 381.5L374.2 388.2" stroke="#779299" stroke-width="2.3"/><path d="M207.9 150.9L205.6 158.8" stroke="#979153" stroke-width="4.9"/><path d="M207.9 150.9L205.6 158.8" stroke="#a7a15f" stroke-width="2.3"/><path d="M359.8 92.0L357.6 85.3" stroke="#6e878d" stroke-width="4.9"/><path d="M359.8 92.0L357.6 85.3" stroke="#7b969c" stroke-width="2.3"/><path d="M268.7 210.7L266.5 215.0" stroke="#5b7277" stroke-width="4.9"/><path d="M268.7 210.7L266.5 215.0" stroke="#687f85" stroke-width="2.3"/><path d="M228.0 90.9L230.2 86.6" stroke="#5c7278" stroke-width="4.9"/><path d="M228.0 90.9L230.2 86.6" stroke="#698086" stroke-width="2.3"/><path d="M302.8 264.1L309.7 257.5" stroke="#9e9857" stroke-width="4.9"/><path d="M302.8 264.1L309.7 257.5" stroke="#aea863" stroke-width="2.3"/><path d="M361.7 351.9L359.6 346.5" stroke="#657d83" stroke-width="4.9"/><path d="M361.7 351.9L359.6 346.5" stroke="#728c92" stroke-width="2.3"/><path d="M288.8 150.7L291.1 142.8" stroke="#989355" stroke-width="4.9"/><path d="M288.8 150.7L291.1 142.8" stroke="#a8a262" stroke-width="2.3"/><path d="M193.7 341.0L195.9 333.1" stroke="#958f4f" stroke-width="4.9"/><path d="M193.7 341.0L195.9 333.1" stroke="#a59e5b" stroke-width="2.3"/><path d="M279.1 298.7L281.2 304.2" stroke="#647d83" stroke-width="4.9"/><path d="M279.1 298.7L281.2 304.2" stroke="#718b91" stroke-width="2.3"/><path d="M327.3 403.6L320.5 410.2" stroke="#9c9654" stroke-width="4.9"/><path d="M327.3 403.6L320.5 410.2" stroke="#aca660" stroke-width="2.3"/><path d="M309.1 221.6L316.0 226.7" stroke="#969153" stroke-width="4.9"/><path d="M309.1 221.6L316.0 226.7" stroke="#a6a060" stroke-width="2.3"/><path d="M181.3 75.3L174.5 70.2" stroke="#969053" stroke-width="4.9"/><path d="M181.3 75.3L174.5 70.2" stroke="#a6a05f" stroke-width="2.3"/><path d="M272.6 280.2L270.5 273.5" stroke="#698389" stroke-width="4.9"/><path d="M272.6 280.2L270.5 273.5" stroke="#769298" stroke-width="2.3"/><path d="M406.5 76.1L413.3 69.5" stroke="#a19b5e" stroke-width="4.9"/><path d="M406.5 76.1L413.3 69.5" stroke="#b2ab6b" stroke-width="2.3"/><path d="M297.0 269.7L303.4 263.6" stroke="#759299" stroke-width="4.9"/><path d="M297.0 269.7L303.4 263.6" stroke="#83a2a9" stroke-width="2.3"/><path d="M205.9 388.4L212.3 393.2" stroke="#6b888f" stroke-width="4.9"/><path d="M205.9 388.4L212.3 393.2" stroke="#79979e" stroke-width="2.3"/><path d="M372.1 127.8L374.2 133.2" stroke="#688085" stroke-width="4.9"/><path d="M372.1 127.8L374.2 133.2" stroke="#758e94" stroke-width="2.3"/><path d="M374.0 387.7L376.2 394.4" stroke="#698389" stroke-width="4.9"/><path d="M374.0 387.7L376.2 394.4" stroke="#769298" stroke-width="2.3"/><path d="M191.8 347.7L193.8 340.3" stroke="#6d8990" stroke-width="4.9"/><path d="M191.8 347.7L193.8 340.3" stroke="#7a99a0" stroke-width="2.3"/><path d="M286.8 157.9L289.0 150.0" stroke="#989254" stroke-width="4.9"/><path d="M286.8 157.9L289.0 150.0" stroke="#a8a261" stroke-width="2.3"/><path d="M361.7 98.2L359.6 91.5" stroke="#6d868c" stroke-width="4.9"/><path d="M361.7 98.2L359.6 91.5" stroke="#7a959b" stroke-width="2.3"/><path d="M400.2 82.1L407.1 75.5" stroke="#a19b5d" stroke-width="4.9"/><path d="M400.2 82.1L407.1 75.5" stroke="#b1ab6a" stroke-width="2.3"/><path d="M291.1 275.4L297.5 269.2" stroke="#759299" stroke-width="4.9"/><path d="M291.1 275.4L297.5 269.2" stroke="#83a1a9" stroke-width="2.3"/><path d="M181.5 378.8L179.4 383.1" stroke="#576e74" stroke-width="4.9"/><path d="M181.5 378.8L179.4 383.1" stroke="#637c82" stroke-width="2.3"/><path d="M359.8 347.0L357.8 341.5" stroke="#647d83" stroke-width="4.9"/><path d="M359.8 347.0L357.8 341.5" stroke="#718b91" stroke-width="2.3"/><circle cx="312.3" cy="418.1" r="13.9" fill="url(#g23)"/><path d="M302.8 216.9L309.7 222.0" stroke="#969052" stroke-width="4.9"/><path d="M302.8 216.9L309.7 222.0" stroke="#a69f5e" stroke-width="2.3"/><path d="M270.7 206.8L268.5 211.1" stroke="#5a7176" stroke-width="4.9"/><path d="M270.7 206.8L268.5 211.1" stroke="#677f84" stroke-width="2.3"/><circle cx="202.8" cy="168.8" r="13.9" fill="url(#g44)"/><path d="M230.0 87.0L232.3 82.5" stroke="#7a7543" stroke-width="4.9"/><path d="M230.0 87.0L232.3 82.5" stroke="#88834f" stroke-width="2.3"/><path d="M200.0 384.0L206.4 388.8" stroke="#6b888f" stroke-width="4.9"/><path d="M200.0 384.0L206.4 388.8" stroke="#78979e" stroke-width="2.3"/><path d="M393.9 88.2L400.8 81.6" stroke="#a09a5c" stroke-width="4.9"/><path d="M393.9 88.2L400.8 81.6" stroke="#b1aa68" stroke-width="2.3"/><path d="M285.3 281.0L291.7 274.8" stroke="#749198" stroke-width="4.9"/><path d="M285.3 281.0L291.7 274.8" stroke="#82a1a8" stroke-width="2.3"/><path d="M189.9 354.4L192.0 347.0" stroke="#6c8990" stroke-width="4.9"/><path d="M189.9 354.4L192.0 347.0" stroke="#79989f" stroke-width="2.3"/><path d="M284.8 165.1L287.0 157.2" stroke="#979153" stroke-width="4.9"/><path d="M284.8 165.1L287.0 157.2" stroke="#a7a15f" stroke-width="2.3"/><path d="M370.2 122.8L372.3 128.3" stroke="#677f85" stroke-width="4.9"/><path d="M370.2 122.8L372.3 128.3" stroke="#748e94" stroke-width="2.3"/><path d="M376.0 393.8L378.3 401.0" stroke="#8c874b" stroke-width="4.9"/><path d="M376.0 393.8L378.3 401.0" stroke="#9c9657" stroke-width="2.3"/><path d="M363.7 104.3L361.6 97.6" stroke="#6c858b" stroke-width="4.9"/><path d="M363.7 104.3L361.6 97.6" stroke="#7a949b" stroke-width="2.3"/><circle cx="166.3" cy="64.1" r="13.9" fill="url(#g20)"/><path d="M388.1 93.8L394.5 87.7" stroke="#79959c" stroke-width="4.9"/><path d="M388.1 93.8L394.5 87.7" stroke="#87a5ac" stroke-width="2.3"/><path d="M297.0 212.5L303.4 217.3" stroke="#6f8b91" stroke-width="4.9"/><path d="M297.0 212.5L303.4 217.3" stroke="#7d9aa1" stroke-width="2.3"/><path d="M194.2 379.7L200.6 384.4" stroke="#6a878e" stroke-width="4.9"/><path d="M194.2 379.7L200.6 384.4" stroke="#77969d" stroke-width="2.3"/><path d="M357.9 342.0L355.7 336.2" stroke="#868048" stroke-width="4.9"/><path d="M357.9 342.0L355.7 336.2" stroke="#958f53" stroke-width="2.3"/><path d="M188.0 361.0L190.1 353.7" stroke="#6b888f" stroke-width="4.9"/><path d="M188.0 361.0L190.1 353.7" stroke="#78979f" stroke-width="2.3"/><path d="M282.9 171.8L284.9 164.4" stroke="#708c93" stroke-width="4.9"/><path d="M282.9 171.8L284.9 164.4" stroke="#7e9ba2" stroke-width="2.3"/><path d="M382.2 99.5L388.6 93.3" stroke="#78959b" stroke-width="4.9"/><path d="M382.2 99.5L388.6 93.3" stroke="#86a4ab" stroke-width="2.3"/><path d="M272.6 202.9L270.5 207.2" stroke="#5a7076" stroke-width="4.9"/><path d="M272.6 202.9L270.5 207.2" stroke="#667e84" stroke-width="2.3"/><circle cx="275.8" cy="290.1" r="15.8" fill="url(#g9)"/><path d="M232.1 82.8L234.4 78.3" stroke="#7a7542" stroke-width="4.9"/><path d="M232.1 82.8L234.4 78.3" stroke="#88834e" stroke-width="2.3"/><path d="M291.1 208.1L297.5 212.9" stroke="#6e8a91" stroke-width="4.9"/><path d="M291.1 208.1L297.5 212.9" stroke="#7c99a0" stroke-width="2.3"/><path d="M378.1 400.4L380.4 407.6" stroke="#8c864a" stroke-width="4.9"/><path d="M378.1 400.4L380.4 407.6" stroke="#9b9556" stroke-width="2.3"/><path d="M376.4 105.1L382.8 98.9" stroke="#78949b" stroke-width="4.9"/><path d="M376.4 105.1L382.8 98.9" stroke="#86a4ab" stroke-width="2.3"/><path d="M281.0 178.5L283.1 171.1" stroke="#6f8c92" stroke-width="4.9"/><path d="M281.0 178.5L283.1 171.1" stroke="#7d9ba2" stroke-width="2.3"/><path d="M355.9 336.6L353.7 330.8" stroke="#858047" stroke-width="4.9"/><path d="M355.9 336.6L353.7 330.8" stroke="#948e52" stroke-width="2.3"/><path d="M197.7 155.5L200.0 161.4" stroke="#857f46" stroke-width="4.9"/><path d="M197.7 155.5L200.0 161.4" stroke="#948e52" stroke-width="2.3"/><path d="M285.3 203.8L291.7 208.5" stroke="#6d8a90" stroke-width="4.9"/><path d="M285.3 203.8L291.7 208.5" stroke="#7b99a0" stroke-width="2.3"/><path d="M279.1 185.1L281.2 177.8" stroke="#6f8b92" stroke-width="4.9"/><path d="M279.1 185.1L281.2 177.8" stroke="#7c9aa1" stroke-width="2.3"/><path d="M317.3 408.2L315.0 412.7" stroke="#77723d" stroke-width="4.9"/><path d="M317.3 408.2L315.0 412.7" stroke="#858048" stroke-width="2.3"/><circle cx="184.7" cy="372.6" r="15.8" fill="url(#g1)"/><path d="M171.3 79.8L169.0 72.6" stroke="#8c864a" stroke-width="4.9"/><path d="M171.3 79.8L169.0 72.6" stroke="#9b9556" stroke-width="2.3"/><path d="M380.3 407.0L382.6 414.2" stroke="#8b8549" stroke-width="4.9"/><path d="M380.3 407.0L382.6 414.2" stroke="#9a9454" stroke-width="2.3"/><circle cx="366.9" cy="114.2" r="15.8" fill="url(#g8)"/><path d="M234.3 78.6L236.6 74.1" stroke="#797441" stroke-width="4.9"/><path d="M234.3 78.6L236.6 74.1" stroke="#87824c" stroke-width="2.3"/><path d="M272.5 301.7L270.4 309.0" stroke="#6c8990" stroke-width="4.9"/><path d="M272.5 301.7L270.4 309.0" stroke="#79989f" stroke-width="2.3"/><path d="M266.3 283.0L259.9 278.3" stroke="#6b888f" stroke-width="4.9"/><path d="M266.3 283.0L259.9 278.3" stroke="#79979e" stroke-width="2.3"/><path d="M353.9 331.3L351.6 325.4" stroke="#857f46" stroke-width="4.9"/><path d="M353.9 331.3L351.6 325.4" stroke="#938e51" stroke-width="2.3"/><path d="M195.7 150.2L197.9 156.0" stroke="#847f45" stroke-width="4.9"/><path d="M195.7 150.2L197.9 156.0" stroke="#938d50" stroke-width="2.3"/><path d="M270.6 308.3L268.5 315.7" stroke="#6b888f" stroke-width="4.9"/><path d="M270.6 308.3L268.5 315.7" stroke="#78979f" stroke-width="2.3"/><path d="M175.2 381.7L168.8 387.9" stroke="#6c8c93" stroke-width="4.9"/><path d="M175.2 381.7L168.8 387.9" stroke="#7a9ba3" stroke-width="2.3"/><path d="M173.5 86.4L171.2 79.2" stroke="#8b8549" stroke-width="4.9"/><path d="M173.5 86.4L171.2 79.2" stroke="#9a9454" stroke-width="2.3"/><path d="M260.5 278.7L254.1 273.9" stroke="#6a878e" stroke-width="4.9"/><path d="M260.5 278.7L254.1 273.9" stroke="#78969e" stroke-width="2.3"/><path d="M319.5 404.0L317.2 408.5" stroke="#76713c" stroke-width="4.9"/><path d="M319.5 404.0L317.2 408.5" stroke="#857f47" stroke-width="2.3"/><circle cx="275.8" cy="196.7" r="15.8" fill="url(#g10)"/><path d="M279.0 283.9L281.1 279.6" stroke="#576e74" stroke-width="4.9"/><path d="M279.0 283.9L281.1 279.6" stroke="#637c82" stroke-width="2.3"/><path d="M169.4 387.3L163.0 393.5" stroke="#6b8b93" stroke-width="4.9"/><path d="M169.4 387.3L163.0 393.5" stroke="#799aa2" stroke-width="2.3"/><path d="M268.7 315.0L266.7 322.4" stroke="#6a888f" stroke-width="4.9"/><path d="M268.7 315.0L266.7 322.4" stroke="#78979e" stroke-width="2.3"/><path d="M363.6 125.8L361.5 133.1" stroke="#6f8c92" stroke-width="4.9"/><path d="M363.6 125.8L361.5 133.1" stroke="#7d9ba2" stroke-width="2.3"/><path d="M193.7 144.8L195.9 150.6" stroke="#847e44" stroke-width="4.9"/><path d="M193.7 144.8L195.9 150.6" stroke="#928d4f" stroke-width="2.3"/><path d="M357.4 107.1L351.0 102.4" stroke="#6f8b91" stroke-width="4.9"/><path d="M357.4 107.1L351.0 102.4" stroke="#7c9aa1" stroke-width="2.3"/><path d="M254.6 274.3L248.2 269.5" stroke="#6a878e" stroke-width="4.9"/><path d="M254.6 274.3L248.2 269.5" stroke="#77969d" stroke-width="2.3"/><path d="M163.5 393.0L157.1 399.1" stroke="#6b8b92" stroke-width="4.9"/><path d="M163.5 393.0L157.1 399.1" stroke="#789aa2" stroke-width="2.3"/><circle cx="385.3" cy="422.7" r="13.9" fill="url(#g25)"/><path d="M187.9 382.5L190.0 389.2" stroke="#607d84" stroke-width="4.9"/><path d="M187.9 382.5L190.0 389.2" stroke="#6d8b92" stroke-width="2.3"/><path d="M175.6 93.0L173.3 85.8" stroke="#8a8548" stroke-width="4.9"/><path d="M175.6 93.0L173.3 85.8" stroke="#9a9353" stroke-width="2.3"/><path d="M181.4 364.0L179.3 358.5" stroke="#5c777d" stroke-width="4.9"/><path d="M181.4 364.0L179.3 358.5" stroke="#68858c" stroke-width="2.3"/><path d="M266.8 321.7L264.6 329.6" stroke="#928c4a" stroke-width="4.9"/><path d="M266.8 321.7L264.6 329.6" stroke="#a29b55" stroke-width="2.3"/><path d="M361.7 132.4L359.6 139.8" stroke="#6f8b92" stroke-width="4.9"/><path d="M361.7 132.4L359.6 139.8" stroke="#7c9aa1" stroke-width="2.3"/><path d="M266.3 205.8L259.9 212.0" stroke="#708e96" stroke-width="4.9"/><path d="M266.3 205.8L259.9 212.0" stroke="#7e9ea5" stroke-width="2.3"/><path d="M157.7 398.6L150.8 405.2" stroke="#968f48" stroke-width="4.9"/><path d="M157.7 398.6L150.8 405.2" stroke="#a69f53" stroke-width="2.3"/><path d="M351.6 102.8L345.2 98.0" stroke="#6e8a91" stroke-width="4.9"/><path d="M351.6 102.8L345.2 98.0" stroke="#7b99a0" stroke-width="2.3"/><path d="M321.6 399.8L319.3 404.3" stroke="#76713b" stroke-width="4.9"/><path d="M321.6 399.8L319.3 404.3" stroke="#847f46" stroke-width="2.3"/><circle cx="348.8" cy="318.0" r="13.9" fill="url(#g45)"/><path d="M280.9 280.0L283.1 275.7" stroke="#566d73" stroke-width="4.9"/><path d="M280.9 280.0L283.1 275.7" stroke="#627b81" stroke-width="2.3"/><path d="M248.8 269.9L241.9 264.8" stroke="#918b49" stroke-width="4.9"/><path d="M248.8 269.9L241.9 264.8" stroke="#a19a55" stroke-width="2.3"/><circle cx="239.3" cy="68.7" r="13.9" fill="url(#g22)"/><path d="M191.8 139.8L193.8 145.3" stroke="#5f797f" stroke-width="4.9"/><path d="M191.8 139.8L193.8 145.3" stroke="#6c878e" stroke-width="2.3"/><path d="M370.1 108.0L372.2 103.7" stroke="#597076" stroke-width="4.9"/><path d="M370.1 108.0L372.2 103.7" stroke="#667e84" stroke-width="2.3"/><path d="M260.5 211.4L254.1 217.6" stroke="#6f8e95" stroke-width="4.9"/><path d="M260.5 211.4L254.1 217.6" stroke="#7d9da5" stroke-width="2.3"/><path d="M151.4 404.7L144.5 411.3" stroke="#968f47" stroke-width="4.9"/><path d="M151.4 404.7L144.5 411.3" stroke="#a59e52" stroke-width="2.3"/><path d="M189.9 388.6L192.0 395.3" stroke="#5f7c83" stroke-width="4.9"/><path d="M189.9 388.6L192.0 395.3" stroke="#6c8b92" stroke-width="2.3"/><path d="M264.8 328.9L262.6 336.8" stroke="#928b48" stroke-width="4.9"/><path d="M264.8 328.9L262.6 336.8" stroke="#a19b54" stroke-width="2.3"/><path d="M359.8 139.1L357.8 146.5" stroke="#6e8a91" stroke-width="4.9"/><path d="M359.8 139.1L357.8 146.5" stroke="#7b9aa1" stroke-width="2.3"/><path d="M177.6 99.1L175.4 92.4" stroke="#647f86" stroke-width="4.9"/><path d="M177.6 99.1L175.4 92.4" stroke="#718e95" stroke-width="2.3"/><path d="M179.5 359.0L177.4 353.6" stroke="#5b767d" stroke-width="4.9"/><path d="M179.5 359.0L177.4 353.6" stroke="#68848b" stroke-width="2.3"/><path d="M345.7 98.4L339.3 93.6" stroke="#6d8990" stroke-width="4.9"/><path d="M345.7 98.4L339.3 93.6" stroke="#7b99a0" stroke-width="2.3"/><path d="M254.6 217.1L248.2 223.2" stroke="#6e8d95" stroke-width="4.9"/><path d="M254.6 217.1L248.2 223.2" stroke="#7c9da4" stroke-width="2.3"/><path d="M145.1 410.7L138.3 417.3" stroke="#958e46" stroke-width="4.9"/><path d="M145.1 410.7L138.3 417.3" stroke="#a59e51" stroke-width="2.3"/><path d="M279.0 206.6L281.1 213.3" stroke="#647f86" stroke-width="4.9"/><path d="M279.0 206.6L281.1 213.3" stroke="#718e95" stroke-width="2.3"/><path d="M370.3 411.5L377.1 416.6" stroke="#918b48" stroke-width="4.9"/><path d="M370.3 411.5L377.1 416.6" stroke="#a19a54" stroke-width="2.3"/><path d="M242.5 265.2L235.6 260.1" stroke="#918b48" stroke-width="4.9"/><path d="M242.5 265.2L235.6 260.1" stroke="#a09a54" stroke-width="2.3"/><path d="M224.3 83.2L231.1 76.6" stroke="#9a9450" stroke-width="4.9"/><path d="M224.3 83.2L231.1 76.6" stroke="#aaa35b" stroke-width="2.3"/><path d="M272.5 188.1L270.4 182.6" stroke="#5f797f" stroke-width="4.9"/><path d="M272.5 188.1L270.4 182.6" stroke="#6c878e" stroke-width="2.3"/><path d="M357.9 145.8L355.7 153.7" stroke="#958f4e" stroke-width="4.9"/><path d="M357.9 145.8L355.7 153.7" stroke="#a49e5a" stroke-width="2.3"/><path d="M262.8 336.1L260.5 344.0" stroke="#918b47" stroke-width="4.9"/><path d="M262.8 336.1L260.5 344.0" stroke="#a19a53" stroke-width="2.3"/><path d="M189.9 134.9L192.0 140.3" stroke="#5e797f" stroke-width="4.9"/><path d="M189.9 134.9L192.0 140.3" stroke="#6b878d" stroke-width="2.3"/><path d="M248.8 222.7L241.9 229.3" stroke="#99924c" stroke-width="4.9"/><path d="M248.8 222.7L241.9 229.3" stroke="#a9a158" stroke-width="2.3"/><path d="M323.6 395.9L321.4 400.2" stroke="#546c72" stroke-width="4.9"/><path d="M323.6 395.9L321.4 400.2" stroke="#607a80" stroke-width="2.3"/><path d="M282.9 276.1L285.1 271.8" stroke="#556d73" stroke-width="4.9"/><path d="M282.9 276.1L285.1 271.8" stroke="#617a80" stroke-width="2.3"/><path d="M191.8 394.8L194.0 401.5" stroke="#5f7b82" stroke-width="4.9"/><path d="M191.8 394.8L194.0 401.5" stroke="#6b8a91" stroke-width="2.3"/><path d="M343.7 335.9L346.0 328.0" stroke="#928c49" stroke-width="4.9"/><path d="M343.7 335.9L346.0 328.0" stroke="#a29b55" stroke-width="2.3"/><path d="M179.5 105.3L177.4 98.6" stroke="#637f85" stroke-width="4.9"/><path d="M179.5 105.3L177.4 98.6" stroke="#708d94" stroke-width="2.3"/><path d="M372.0 104.1L374.2 99.8" stroke="#597075" stroke-width="4.9"/><path d="M372.0 104.1L374.2 99.8" stroke="#657d83" stroke-width="2.3"/><path d="M339.9 94.0L333.0 88.9" stroke="#948e4e" stroke-width="4.9"/><path d="M339.9 94.0L333.0 88.9" stroke="#a39d5a" stroke-width="2.3"/><path d="M218.0 89.2L224.9 82.6" stroke="#9a934f" stroke-width="4.9"/><path d="M218.0 89.2L224.9 82.6" stroke="#aaa35a" stroke-width="2.3"/><path d="M177.6 354.1L175.6 348.6" stroke="#5a767c" stroke-width="4.9"/><path d="M177.6 354.1L175.6 348.6" stroke="#67848b" stroke-width="2.3"/><path d="M364.0 406.8L370.9 411.9" stroke="#918a47" stroke-width="4.9"/><path d="M364.0 406.8L370.9 411.9" stroke="#a09953" stroke-width="2.3"/><path d="M236.2 260.5L229.4 255.4" stroke="#908a47" stroke-width="4.9"/><path d="M236.2 260.5L229.4 255.4" stroke="#a09953" stroke-width="2.3"/><path d="M242.5 228.8L235.6 235.4" stroke="#98914b" stroke-width="4.9"/><path d="M242.5 228.8L235.6 235.4" stroke="#a8a157" stroke-width="2.3"/><circle cx="130.1" cy="425.2" r="13.9" fill="url(#g11)"/><path d="M281.0 212.7L283.1 219.4" stroke="#637f85" stroke-width="4.9"/><path d="M281.0 212.7L283.1 219.4" stroke="#708d94" stroke-width="2.3"/><path d="M355.9 153.0L353.7 160.9" stroke="#948e4d" stroke-width="4.9"/><path d="M355.9 153.0L353.7 160.9" stroke="#a49d59" stroke-width="2.3"/><path d="M211.7 95.3L218.6 88.7" stroke="#99934e" stroke-width="4.9"/><path d="M211.7 95.3L218.6 88.7" stroke="#a9a259" stroke-width="2.3"/><path d="M270.6 183.1L268.5 177.7" stroke="#5e797f" stroke-width="4.9"/><path d="M270.6 183.1L268.5 177.7" stroke="#6b878d" stroke-width="2.3"/><path d="M341.7 343.1L343.9 335.2" stroke="#928b48" stroke-width="4.9"/><path d="M341.7 343.1L343.9 335.2" stroke="#a19b54" stroke-width="2.3"/><path d="M188.0 129.9L190.1 135.4" stroke="#5d787e" stroke-width="4.9"/><path d="M188.0 129.9L190.1 135.4" stroke="#6a868d" stroke-width="2.3"/><path d="M236.2 234.8L229.4 241.4" stroke="#98914a" stroke-width="4.9"/><path d="M236.2 234.8L229.4 241.4" stroke="#a7a056" stroke-width="2.3"/><path d="M333.6 89.3L326.7 84.2" stroke="#938d4d" stroke-width="4.9"/><path d="M333.6 89.3L326.7 84.2" stroke="#a39c58" stroke-width="2.3"/><path d="M193.8 400.9L196.1 408.1" stroke="#86803e" stroke-width="4.9"/><path d="M193.8 400.9L196.1 408.1" stroke="#958e49" stroke-width="2.3"/><path d="M181.5 111.4L179.4 104.7" stroke="#627e85" stroke-width="4.9"/><path d="M181.5 111.4L179.4 104.7" stroke="#6f8c94" stroke-width="2.3"/><path d="M357.7 402.1L364.6 407.2" stroke="#908a46" stroke-width="4.9"/><path d="M357.7 402.1L364.6 407.2" stroke="#9f9952" stroke-width="2.3"/><path d="M325.6 392.0L323.4 396.3" stroke="#536b71" stroke-width="4.9"/><path d="M325.6 392.0L323.4 396.3" stroke="#5f797f" stroke-width="2.3"/><path d="M205.9 100.9L212.3 94.8" stroke="#6e8d94" stroke-width="4.9"/><path d="M205.9 100.9L212.3 94.8" stroke="#7b9ca4" stroke-width="2.3"/><circle cx="257.7" cy="354.0" r="13.9" fill="url(#g51)"/><path d="M353.9 160.2L351.6 168.1" stroke="#948d4c" stroke-width="4.9"/><path d="M353.9 160.2L351.6 168.1" stroke="#a39d58" stroke-width="2.3"/><path d="M284.9 272.2L287.2 267.7" stroke="#75703a" stroke-width="4.9"/><path d="M284.9 272.2L287.2 267.7" stroke="#837e45" stroke-width="2.3"/><path d="M175.7 349.1L173.5 343.3" stroke="#807a3c" stroke-width="4.9"/><path d="M175.7 349.1L173.5 343.3" stroke="#8e8847" stroke-width="2.3"/><path d="M374.0 100.2L376.2 95.9" stroke="#586f74" stroke-width="4.9"/><path d="M374.0 100.2L376.2 95.9" stroke="#647d82" stroke-width="2.3"/><path d="M282.9 218.9L285.1 225.6" stroke="#627e85" stroke-width="4.9"/><path d="M282.9 218.9L285.1 225.6" stroke="#6f8c93" stroke-width="2.3"/><path d="M339.7 350.3L341.9 342.4" stroke="#918b47" stroke-width="4.9"/><path d="M339.7 350.3L341.9 342.4" stroke="#a19a53" stroke-width="2.3"/><path d="M200.0 106.6L206.4 100.4" stroke="#6d8c94" stroke-width="4.9"/><path d="M200.0 106.6L206.4 100.4" stroke="#7b9ca3" stroke-width="2.3"/><path d="M268.7 178.2L266.7 172.7" stroke="#5d787e" stroke-width="4.9"/><path d="M268.7 178.2L266.7 172.7" stroke="#6a868d" stroke-width="2.3"/><path d="M327.3 84.6L320.5 79.5" stroke="#938c4c" stroke-width="4.9"/><path d="M327.3 84.6L320.5 79.5" stroke="#a29c57" stroke-width="2.3"/><circle cx="221.2" cy="249.3" r="13.9" fill="url(#g35)"/><path d="M351.9 397.7L358.3 402.5" stroke="#66848b" stroke-width="4.9"/><path d="M351.9 397.7L358.3 402.5" stroke="#73939a" stroke-width="2.3"/><path d="M195.9 407.5L198.2 414.7" stroke="#857f3d" stroke-width="4.9"/><path d="M195.9 407.5L198.2 414.7" stroke="#948d48" stroke-width="2.3"/><path d="M194.2 112.2L200.6 106.0" stroke="#6c8c93" stroke-width="4.9"/><path d="M194.2 112.2L200.6 106.0" stroke="#7a9ba3" stroke-width="2.3"/><path d="M337.8 357.0L339.8 349.6" stroke="#67858c" stroke-width="4.9"/><path d="M337.8 357.0L339.8 349.6" stroke="#74949c" stroke-width="2.3"/><path d="M327.5 388.1L325.4 392.4" stroke="#526b71" stroke-width="4.9"/><path d="M327.5 388.1L325.4 392.4" stroke="#5e787e" stroke-width="2.3"/><path d="M173.7 343.7L171.5 337.9" stroke="#7f793a" stroke-width="4.9"/><path d="M173.7 343.7L171.5 337.9" stroke="#8e8745" stroke-width="2.3"/><path d="M284.9 225.0L287.2 232.2" stroke="#888243" stroke-width="4.9"/><path d="M284.9 225.0L287.2 232.2" stroke="#97914e" stroke-width="2.3"/><path d="M287.0 268.0L289.3 263.5" stroke="#757039" stroke-width="4.9"/><path d="M287.0 268.0L289.3 263.5" stroke="#837d43" stroke-width="2.3"/><circle cx="348.8" cy="178.1" r="13.9" fill="url(#g46)"/><path d="M376.0 96.3L378.3 91.8" stroke="#77723e" stroke-width="4.9"/><path d="M376.0 96.3L378.3 91.8" stroke="#858049" stroke-width="2.3"/><path d="M346.0 393.3L352.4 398.1" stroke="#65838b" stroke-width="4.9"/><path d="M346.0 393.3L352.4 398.1" stroke="#72929a" stroke-width="2.3"/><path d="M266.8 173.2L264.6 167.4" stroke="#827c40" stroke-width="4.9"/><path d="M266.8 173.2L264.6 167.4" stroke="#908a4b" stroke-width="2.3"/><path d="M335.9 363.7L338.0 356.3" stroke="#66858c" stroke-width="4.9"/><path d="M335.9 363.7L338.0 356.3" stroke="#73939b" stroke-width="2.3"/><path d="M198.1 414.1L200.4 421.3" stroke="#857e3c" stroke-width="4.9"/><path d="M198.1 414.1L200.4 421.3" stroke="#938d47" stroke-width="2.3"/><circle cx="184.7" cy="121.3" r="15.8" fill="url(#g2)"/><circle cx="312.3" cy="73.4" r="13.9" fill="url(#g24)"/><path d="M340.2 389.0L346.6 393.7" stroke="#64838a" stroke-width="4.9"/><path d="M340.2 389.0L346.6 393.7" stroke="#719299" stroke-width="2.3"/><path d="M287.0 231.6L289.3 238.8" stroke="#878141" stroke-width="4.9"/><path d="M287.0 231.6L289.3 238.8" stroke="#96904d" stroke-width="2.3"/><path d="M171.7 338.4L169.4 332.5" stroke="#7e7839" stroke-width="4.9"/><path d="M171.7 338.4L169.4 332.5" stroke="#8d8744" stroke-width="2.3"/><path d="M334.0 370.3L336.1 363.0" stroke="#65848b" stroke-width="4.9"/><path d="M334.0 370.3L336.1 363.0" stroke="#72939b" stroke-width="2.3"/><path d="M264.8 167.8L262.6 162.0" stroke="#817b3f" stroke-width="4.9"/><path d="M264.8 167.8L262.6 162.0" stroke="#908a4a" stroke-width="2.3"/><path d="M289.2 263.8L291.5 259.3" stroke="#746f37" stroke-width="4.9"/><path d="M289.2 263.8L291.5 259.3" stroke="#827d42" stroke-width="2.3"/><path d="M378.1 92.1L380.4 87.6" stroke="#77723c" stroke-width="4.9"/><path d="M378.1 92.1L380.4 87.6" stroke="#857f47" stroke-width="2.3"/><path d="M289.2 238.2L291.5 245.4" stroke="#878140" stroke-width="4.9"/><path d="M289.2 238.2L291.5 245.4" stroke="#968f4b" stroke-width="2.3"/><path d="M181.4 132.9L179.3 140.2" stroke="#65848b" stroke-width="4.9"/><path d="M181.4 132.9L179.3 140.2" stroke="#72929a" stroke-width="2.3"/><path d="M343.7 164.8L346.0 170.7" stroke="#827c40" stroke-width="4.9"/><path d="M343.7 164.8L346.0 170.7" stroke="#908a4b" stroke-width="2.3"/><path d="M175.2 114.2L168.8 109.5" stroke="#64838a" stroke-width="4.9"/><path d="M175.2 114.2L168.8 109.5" stroke="#719199" stroke-width="2.3"/><path d="M262.8 162.5L260.5 156.6" stroke="#807b3d" stroke-width="4.9"/><path d="M262.8 162.5L260.5 156.6" stroke="#8f8948" stroke-width="2.3"/><circle cx="203.1" cy="429.8" r="13.9" fill="url(#g13)"/><circle cx="330.7" cy="381.9" r="15.8" fill="url(#g3)"/><path d="M317.3 89.1L315.0 81.9" stroke="#888243" stroke-width="4.9"/><path d="M317.3 89.1L315.0 81.9" stroke="#97914e" stroke-width="2.3"/><path d="M179.5 139.5L177.4 146.9" stroke="#64838b" stroke-width="4.9"/><path d="M179.5 139.5L177.4 146.9" stroke="#71929a" stroke-width="2.3"/><path d="M380.3 87.9L382.6 83.4" stroke="#76713b" stroke-width="4.9"/><path d="M380.3 87.9L382.6 83.4" stroke="#847f46" stroke-width="2.3"/><path d="M169.4 109.9L163.0 105.1" stroke="#638289" stroke-width="4.9"/><path d="M169.4 109.9L163.0 105.1" stroke="#709199" stroke-width="2.3"/><circle cx="166.6" cy="325.1" r="13.9" fill="url(#g39)"/><path d="M341.7 159.5L343.9 165.3" stroke="#817b3e" stroke-width="4.9"/><path d="M341.7 159.5L343.9 165.3" stroke="#908949" stroke-width="2.3"/><path d="M187.9 115.1L190.0 110.8" stroke="#516a70" stroke-width="4.9"/><path d="M187.9 115.1L190.0 110.8" stroke="#5d777e" stroke-width="2.3"/><path d="M177.6 146.2L175.6 153.6" stroke="#63838a" stroke-width="4.9"/><path d="M177.6 146.2L175.6 153.6" stroke="#709199" stroke-width="2.3"/><path d="M321.2 391.0L314.8 397.2" stroke="#66878f" stroke-width="4.9"/><path d="M321.2 391.0L314.8 397.2" stroke="#73969e" stroke-width="2.3"/><path d="M319.5 95.7L317.2 88.5" stroke="#888242" stroke-width="4.9"/><path d="M319.5 95.7L317.2 88.5" stroke="#97904d" stroke-width="2.3"/><path d="M163.5 105.5L157.1 100.7" stroke="#628289" stroke-width="4.9"/><path d="M163.5 105.5L157.1 100.7" stroke="#6f9098" stroke-width="2.3"/><circle cx="294.2" cy="253.9" r="13.9" fill="url(#g36)"/><path d="M315.4 396.6L309.0 402.8" stroke="#65878f" stroke-width="4.9"/><path d="M315.4 396.6L309.0 402.8" stroke="#73969e" stroke-width="2.3"/><path d="M175.7 152.9L173.5 160.8" stroke="#8e8740" stroke-width="4.9"/><path d="M175.7 152.9L173.5 160.8" stroke="#9d964c" stroke-width="2.3"/><path d="M339.7 154.1L341.9 159.9" stroke="#807b3d" stroke-width="4.9"/><path d="M339.7 154.1L341.9 159.9" stroke="#8f8948" stroke-width="2.3"/><circle cx="257.7" cy="149.2" r="13.9" fill="url(#g52)"/><path d="M309.5 402.3L303.1 408.4" stroke="#65868e" stroke-width="4.9"/><path d="M309.5 402.3L303.1 408.4" stroke="#72959d" stroke-width="2.3"/><path d="M189.8 111.2L192.0 106.9" stroke="#50696f" stroke-width="4.9"/><path d="M189.8 111.2L192.0 106.9" stroke="#5c777d" stroke-width="2.3"/><path d="M157.7 101.1L150.8 96.0" stroke="#8d8640" stroke-width="4.9"/><path d="M157.7 101.1L150.8 96.0" stroke="#9c954b" stroke-width="2.3"/><path d="M333.9 391.8L336.0 398.5" stroke="#5b7980" stroke-width="4.9"/><path d="M333.9 391.8L336.0 398.5" stroke="#68878f" stroke-width="2.3"/><path d="M321.6 102.3L319.3 95.1" stroke="#878141" stroke-width="4.9"/><path d="M321.6 102.3L319.3 95.1" stroke="#96904c" stroke-width="2.3"/><path d="M327.4 373.3L325.3 367.8" stroke="#57737a" stroke-width="4.9"/><path d="M327.4 373.3L325.3 367.8" stroke="#638188" stroke-width="2.3"/><path d="M173.7 160.1L171.5 168.0" stroke="#8d873f" stroke-width="4.9"/><path d="M173.7 160.1L171.5 168.0" stroke="#9d964a" stroke-width="2.3"/><path d="M303.7 407.9L296.8 414.5" stroke="#928b40" stroke-width="4.9"/><path d="M303.7 407.9L296.8 414.5" stroke="#a29a4b" stroke-width="2.3"/><circle cx="385.3" cy="78.0" r="13.9" fill="url(#g26)"/><path d="M151.4 96.4L144.5 91.3" stroke="#8c863f" stroke-width="4.9"/><path d="M151.4 96.4L144.5 91.3" stroke="#9c954a" stroke-width="2.3"/><path d="M337.8 149.1L339.8 154.6" stroke="#5a757c" stroke-width="4.9"/><path d="M337.8 149.1L339.8 154.6" stroke="#66838a" stroke-width="2.3"/><path d="M297.4 414.0L290.5 420.6" stroke="#928b3f" stroke-width="4.9"/><path d="M297.4 414.0L290.5 420.6" stroke="#a19a4a" stroke-width="2.3"/><path d="M335.9 397.9L338.0 404.6" stroke="#5a787f" stroke-width="4.9"/><path d="M335.9 397.9L338.0 404.6" stroke="#67868e" stroke-width="2.3"/><path d="M171.7 167.3L169.4 175.2" stroke="#8d863e" stroke-width="4.9"/><path d="M171.7 167.3L169.4 175.2" stroke="#9c9549" stroke-width="2.3"/><path d="M323.6 108.4L321.4 101.7" stroke="#5e7b82" stroke-width="4.9"/><path d="M323.6 108.4L321.4 101.7" stroke="#6b8a91" stroke-width="2.3"/><path d="M191.8 107.3L194.0 103.0" stroke="#4f696f" stroke-width="4.9"/><path d="M191.8 107.3L194.0 103.0" stroke="#5b767c" stroke-width="2.3"/><path d="M325.5 368.3L323.4 362.9" stroke="#567279" stroke-width="4.9"/><path d="M325.5 368.3L323.4 362.9" stroke="#628088" stroke-width="2.3"/><path d="M291.1 420.0L284.3 426.6" stroke="#918a3e" stroke-width="4.9"/><path d="M291.1 420.0L284.3 426.6" stroke="#a19949" stroke-width="2.3"/><path d="M145.1 91.7L138.3 86.6" stroke="#8c853e" stroke-width="4.9"/><path d="M145.1 91.7L138.3 86.6" stroke="#9b9449" stroke-width="2.3"/><path d="M370.3 92.5L377.1 85.9" stroke="#968f48" stroke-width="4.9"/><path d="M370.3 92.5L377.1 85.9" stroke="#a69f53" stroke-width="2.3"/><path d="M335.9 144.2L338.0 149.6" stroke="#59757b" stroke-width="4.9"/><path d="M335.9 144.2L338.0 149.6" stroke="#65838a" stroke-width="2.3"/><path d="M337.8 404.1L340.0 410.8" stroke="#59777f" stroke-width="4.9"/><path d="M337.8 404.1L340.0 410.8" stroke="#66868d" stroke-width="2.3"/><path d="M325.5 114.6L323.4 107.9" stroke="#5d7b82" stroke-width="4.9"/><path d="M325.5 114.6L323.4 107.9" stroke="#6a8990" stroke-width="2.3"/><path d="M364.0 98.5L370.9 91.9" stroke="#968f47" stroke-width="4.9"/><path d="M364.0 98.5L370.9 91.9" stroke="#a69e52" stroke-width="2.3"/><path d="M323.6 363.4L321.6 357.9" stroke="#557279" stroke-width="4.9"/><path d="M323.6 363.4L321.6 357.9" stroke="#618087" stroke-width="2.3"/><circle cx="276.1" cy="434.5" r="13.9" fill="url(#g15)"/><circle cx="166.6" cy="185.2" r="13.9" fill="url(#g40)"/><path d="M193.8 103.4L196.1 98.9" stroke="#726c32" stroke-width="4.9"/><path d="M193.8 103.4L196.1 98.9" stroke="#807a3d" stroke-width="2.3"/><path d="M357.7 104.6L364.6 98.0" stroke="#958e46" stroke-width="4.9"/><path d="M357.7 104.6L364.6 98.0" stroke="#a59e51" stroke-width="2.3"/><path d="M334.0 139.2L336.1 144.7" stroke="#58747b" stroke-width="4.9"/><path d="M334.0 139.2L336.1 144.7" stroke="#658289" stroke-width="2.3"/><path d="M339.8 410.2L342.1 417.4" stroke="#827c37" stroke-width="4.9"/><path d="M339.8 410.2L342.1 417.4" stroke="#918a42" stroke-width="2.3"/><path d="M327.5 120.7L325.4 114.0" stroke="#5d7a81" stroke-width="4.9"/><path d="M327.5 120.7L325.4 114.0" stroke="#698890" stroke-width="2.3"/><circle cx="130.1" cy="80.5" r="13.9" fill="url(#g12)"/><path d="M351.9 110.2L358.3 104.1" stroke="#688890" stroke-width="4.9"/><path d="M351.9 110.2L358.3 104.1" stroke="#7598a0" stroke-width="2.3"/><path d="M321.7 358.4L319.5 352.6" stroke="#7c7635" stroke-width="4.9"/><path d="M321.7 358.4L319.5 352.6" stroke="#8b8440" stroke-width="2.3"/><path d="M346.0 115.9L352.4 109.7" stroke="#678890" stroke-width="4.9"/><path d="M346.0 115.9L352.4 109.7" stroke="#74979f" stroke-width="2.3"/><path d="M195.9 99.2L198.2 94.7" stroke="#716c31" stroke-width="4.9"/><path d="M195.9 99.2L198.2 94.7" stroke="#7f793c" stroke-width="2.3"/><path d="M341.9 416.8L344.2 424.0" stroke="#827b36" stroke-width="4.9"/><path d="M341.9 416.8L344.2 424.0" stroke="#908a41" stroke-width="2.3"/><path d="M340.2 121.5L346.6 115.3" stroke="#66878f" stroke-width="4.9"/><path d="M340.2 121.5L346.6 115.3" stroke="#74969f" stroke-width="2.3"/><path d="M319.7 353.0L317.5 347.2" stroke="#7c7534" stroke-width="4.9"/><path d="M319.7 353.0L317.5 347.2" stroke="#8a833e" stroke-width="2.3"/><path d="M344.1 423.4L346.4 430.6" stroke="#817a35" stroke-width="4.9"/><path d="M344.1 423.4L346.4 430.6" stroke="#90893f" stroke-width="2.3"/><circle cx="330.7" cy="130.6" r="15.8" fill="url(#g4)"/><path d="M198.1 95.0L200.4 90.5" stroke="#716b30" stroke-width="4.9"/><path d="M198.1 95.0L200.4 90.5" stroke="#7e783a" stroke-width="2.3"/><path d="M317.7 347.7L315.4 341.8" stroke="#7b7533" stroke-width="4.9"/><path d="M317.7 347.7L315.4 341.8" stroke="#8a833d" stroke-width="2.3"/><path d="M327.4 142.2L325.3 149.5" stroke="#5f7f87" stroke-width="4.9"/><path d="M327.4 142.2L325.3 149.5" stroke="#6c8e96" stroke-width="2.3"/><path d="M321.2 123.5L314.8 118.8" stroke="#5e7e86" stroke-width="4.9"/><path d="M321.2 123.5L314.8 118.8" stroke="#6b8d95" stroke-width="2.3"/><circle cx="349.1" cy="439.1" r="13.9" fill="url(#g17)"/><path d="M325.5 148.8L323.4 156.2" stroke="#5e7f87" stroke-width="4.9"/><path d="M325.5 148.8L323.4 156.2" stroke="#6b8d96" stroke-width="2.3"/><path d="M315.4 119.2L309.0 114.4" stroke="#5e7e86" stroke-width="4.9"/><path d="M315.4 119.2L309.0 114.4" stroke="#6a8c95" stroke-width="2.3"/><circle cx="312.6" cy="334.4" r="13.9" fill="url(#g41)"/><circle cx="203.1" cy="85.1" r="13.9" fill="url(#g14)"/><path d="M333.9 124.4L336.0 120.1" stroke="#4c666d" stroke-width="4.9"/><path d="M333.9 124.4L336.0 120.1" stroke="#58747a" stroke-width="2.3"/><path d="M323.6 155.5L321.6 162.9" stroke="#5d7e86" stroke-width="4.9"/><path d="M323.6 155.5L321.6 162.9" stroke="#6a8d95" stroke-width="2.3"/><path d="M309.5 114.8L303.1 110.0" stroke="#5d7d85" stroke-width="4.9"/><path d="M309.5 114.8L303.1 110.0" stroke="#698c94" stroke-width="2.3"/><path d="M321.7 162.2L319.5 170.1" stroke="#8a8339" stroke-width="4.9"/><path d="M321.7 162.2L319.5 170.1" stroke="#999244" stroke-width="2.3"/><path d="M335.8 120.5L338.0 116.2" stroke="#4b666c" stroke-width="4.9"/><path d="M335.8 120.5L338.0 116.2" stroke="#57737a" stroke-width="2.3"/><path d="M303.7 110.4L296.8 105.3" stroke="#898239" stroke-width="4.9"/><path d="M303.7 110.4L296.8 105.3" stroke="#989144" stroke-width="2.3"/><path d="M319.7 169.4L317.5 177.3" stroke="#8a8338" stroke-width="4.9"/><path d="M319.7 169.4L317.5 177.3" stroke="#999143" stroke-width="2.3"/><path d="M297.4 105.7L290.5 100.6" stroke="#898238" stroke-width="4.9"/><path d="M297.4 105.7L290.5 100.6" stroke="#989042" stroke-width="2.3"/><path d="M317.7 176.6L315.4 184.5" stroke="#898237" stroke-width="4.9"/><path d="M317.7 176.6L315.4 184.5" stroke="#989141" stroke-width="2.3"/><path d="M337.8 116.6L340.0 112.3" stroke="#4a656c" stroke-width="4.9"/><path d="M337.8 116.6L340.0 112.3" stroke="#567279" stroke-width="2.3"/><path d="M291.1 101.0L284.3 95.9" stroke="#888137" stroke-width="4.9"/><path d="M291.1 101.0L284.3 95.9" stroke="#979041" stroke-width="2.3"/><circle cx="312.6" cy="194.5" r="13.9" fill="url(#g42)"/><path d="M339.8 112.7L342.1 108.2" stroke="#6f692d" stroke-width="4.9"/><path d="M339.8 112.7L342.1 108.2" stroke="#7c7637" stroke-width="2.3"/><circle cx="276.1" cy="89.8" r="13.9" fill="url(#g16)"/><path d="M341.9 108.5L344.2 104.0" stroke="#6e682b" stroke-width="4.9"/><path d="M341.9 108.5L344.2 104.0" stroke="#7c7635" stroke-width="2.3"/><path d="M344.1 104.3L346.4 99.8" stroke="#6e682a" stroke-width="4.9"/><path d="M344.1 104.3L346.4 99.8" stroke="#7b7534" stroke-width="2.3"/><circle cx="349.1" cy="94.4" r="13.9" fill="url(#g18)"/><path d="M184.70 419.30L184.70 388.28" stroke="#3a3a3a" stroke-width="1.05"/><path d="M184.70 356.76L184.70 137.14" stroke="#383838" stroke-width="1.05"/><path d="M184.70 105.62L184.70 74.60" stroke="#363636" stroke-width="1.05"/><path d="M184.70 419.30L193.70 419.87" stroke="#3a3a3a" stroke-width="1.05"/><path d="M213.70 421.15L266.70 424.52" stroke="#373737" stroke-width="1.05"/><path d="M288.70 425.92L330.70 428.60" stroke="#343434" stroke-width="1.05"/><path d="M184.70 419.30L195.70 414.32" stroke="#3d3d3d" stroke-width="1.05"/><path d="M200.28 412.24L220.90 402.90" stroke="#494949" stroke-width="1.05"/><path d="M184.70 74.60L193.70 75.17" stroke="#353535" stroke-width="1.05"/><path d="M213.70 76.45L266.70 79.82" stroke="#333333" stroke-width="1.05"/><path d="M286.70 81.10L330.70 83.90" stroke="#2f2f2f" stroke-width="1.05"/><path d="M184.70 74.60L220.90 58.20" stroke="#404040" stroke-width="1.05"/><path d="M330.70 428.60L330.70 397.58" stroke="#333333" stroke-width="1.05"/><path d="M330.70 366.06L330.70 146.44" stroke="#313131" stroke-width="1.05"/><path d="M330.70 114.92L330.70 83.90" stroke="#2f2f2f" stroke-width="1.05"/><path d="M330.70 428.60L341.70 423.62" stroke="#363636" stroke-width="1.05"/><path d="M346.28 421.54L366.90 412.20" stroke="#414141" stroke-width="1.05"/><path d="M330.70 83.90L366.90 67.50" stroke="#393939" stroke-width="1.05"/><path d="M220.90 396.40L220.90 371.88" stroke="#4e4e4e" stroke-width="1.05"/><path d="M220.90 340.36L220.90 263.32" stroke="#4d4d4d" stroke-width="1.05"/><path d="M220.90 235.30L220.90 120.74" stroke="#4b4b4b" stroke-width="1.05"/><path d="M220.90 83.21L220.90 58.20" stroke="#4a4a4a" stroke-width="1.05"/><path d="M249.90 404.75L299.90 407.93" stroke="#4c4c4c" stroke-width="1.05"/><path d="M324.90 409.52L337.40 410.32" stroke="#494949" stroke-width="1.05"/><path d="M342.40 410.64L366.90 412.20" stroke="#484848" stroke-width="1.05"/><path d="M220.90 58.20L229.90 58.77" stroke="#4a4a4a" stroke-width="1.05"/><path d="M249.90 60.05L302.90 63.42" stroke="#474747" stroke-width="1.05"/><path d="M322.90 64.70L366.90 67.50" stroke="#444444" stroke-width="1.05"/><path d="M366.90 405.70L366.90 381.18" stroke="#474747" stroke-width="1.05"/><path d="M366.90 349.66L366.90 130.04" stroke="#454545" stroke-width="1.05"/><path d="M366.90 92.51L366.90 67.50" stroke="#434343" stroke-width="1.05"/></g>
<text x="17.0" y="25.5" font-family='"Liberation Serif", serif' font-size="27.0" text-anchor="start" fill="#111" >(a)</text>
<path d="M50.1 419.3L50.1 381.0" stroke="#1414e6" stroke-width="4.4"/>
<path d="M43.3 383.0L56.9 383.0L50.1 364.5Z" fill="#0a0af0"/>
<path d="M50.1 419.3L84.5 421.6" stroke="#12e012" stroke-width="4.4"/>
<path d="M83.6 414.0L82.7 429.0L101.8 422.6Z" fill="#10e410"/>
<path d="M50.1 419.3L38.5 424.0" stroke="#c80808" stroke-width="4.4"/>
<ellipse cx="37.6" cy="424.2" rx="6.6" ry="6.9" fill="url(#gr)"/>
<circle cx="50.1" cy="419.3" r="5.8" fill="url(#go)"/>
<path d="M46.5 420.8L42.0 422.6" stroke="#c80808" stroke-width="3.6" stroke-linecap="round"/>
<text x="50.8" y="359.8" font-family='"Liberation Serif", serif' font-size="23.0" text-anchor="middle" fill="#111" >c</text>
<text x="22.0" y="431.3" font-family='"Liberation Serif", serif' font-size="23.0" text-anchor="middle" fill="#111" >a</text>
<text x="107.2" y="429.2" font-family='"Liberation Serif", serif' font-size="23.0" text-anchor="middle" fill="#111" >b</text>
<text x="0.8" y="530.8" font-family='"Liberation Serif", serif' font-size="27.0" text-anchor="start" fill="#111" >(b)</text>
<clipPath id="cb"><rect x="115.7" y="535.9" width="550.0" height="495.5"/></clipPath>
<g clip-path="url(#cb)">
<path d="M149.5 783.6C150.8 783.0 156.8 780.2 159.0 779.3C161.1 778.3 163.3 777.1 164.7 776.8C166.0 776.5 167.1 778.0 168.5 777.4C169.8 776.7 172.8 772.9 174.2 772.3C175.5 771.6 176.9 773.7 178.0 773.0C179.0 772.3 180.4 767.4 181.4 767.3C182.3 767.3 183.7 771.7 184.6 772.6C185.5 773.5 186.4 772.5 187.4 773.6C188.5 774.7 191.1 780.0 192.2 780.2C193.3 780.5 194.1 776.1 195.0 775.5C196.0 774.9 197.9 775.6 198.8 776.0C199.8 776.5 200.7 778.6 201.7 778.7C202.6 778.8 204.4 777.6 205.5 776.4C206.6 775.3 208.2 772.2 209.3 770.7C210.3 769.3 211.9 766.5 213.1 766.0C214.3 765.5 216.6 768.9 217.8 766.9C219.0 765.0 220.7 753.2 221.6 752.1C222.6 751.1 223.4 761.3 224.5 759.3C225.5 757.4 228.1 743.3 229.2 738.5C230.3 733.6 231.2 726.3 232.0 725.2C232.9 724.1 234.1 726.8 234.9 730.9C235.7 734.9 236.9 747.2 237.7 753.7C238.5 760.1 239.8 772.8 240.6 776.4C241.4 780.1 242.6 781.6 243.4 779.3C244.2 777.0 245.5 760.8 246.3 760.3C247.1 759.8 248.2 773.9 249.1 775.5C250.1 777.0 252.0 770.3 252.9 771.1C253.9 771.9 255.2 779.4 255.8 781.2C256.4 782.9 257.1 783.3 257.3 783.6" fill="none" stroke="#1a1a1a" stroke-width="1.15" stroke-linejoin="round" />
<path d="M392.0 783.6C393.1 783.4 397.4 782.9 399.7 782.1C402.0 781.3 406.3 778.7 408.5 777.7C410.6 776.8 413.3 776.3 415.0 775.5C416.7 774.8 419.1 773.3 420.5 772.3C421.9 771.2 423.6 768.0 424.9 767.9C426.1 767.7 428.3 770.9 429.3 771.2C430.2 771.5 430.7 769.8 431.5 770.1C432.2 770.3 433.5 773.1 434.3 772.9C435.1 772.8 436.5 770.2 437.4 769.0C438.2 767.8 439.3 764.4 440.2 764.6C441.1 764.7 442.7 769.9 443.5 770.1C444.3 770.2 445.0 767.5 445.7 765.7C446.4 763.8 447.4 757.9 448.3 756.9C449.2 756.0 451.2 758.0 452.3 759.1C453.3 760.2 454.5 764.5 455.5 764.6C456.6 764.7 458.8 759.4 459.9 759.6C461.0 759.7 462.3 764.3 463.2 765.7C464.1 767.1 465.6 770.6 466.5 769.6C467.4 768.6 468.8 759.8 469.8 758.7C470.7 757.6 472.0 762.5 473.1 761.7C474.1 761.0 476.5 754.3 477.4 753.6C478.4 753.0 479.0 756.0 479.6 757.4C480.2 758.8 481.0 763.3 481.8 763.5C482.6 763.7 484.1 760.4 485.1 759.1C486.1 757.8 488.0 754.0 488.8 754.3C489.7 754.6 490.5 759.3 491.2 761.3C491.9 763.3 493.0 769.6 493.9 768.5C494.7 767.4 496.3 757.3 497.1 753.6C498.0 750.0 499.0 743.3 499.8 742.7C500.5 742.1 501.6 747.3 502.6 749.3C503.6 751.2 506.0 757.3 507.0 756.5C508.0 755.7 509.0 747.8 509.6 743.8C510.2 739.8 510.8 727.9 511.4 728.0C512.0 728.2 512.9 742.0 514.0 744.9C515.1 747.8 518.2 748.0 519.0 748.6C519.9 749.2 519.4 750.1 520.0 749.3C520.6 748.4 522.5 743.2 523.3 742.7C524.1 742.2 524.8 746.4 525.5 746.0C526.2 745.6 527.5 739.1 528.3 739.9C529.1 740.6 530.2 749.5 530.9 751.5C531.7 753.4 532.6 754.6 533.6 753.6C534.5 752.7 536.5 745.7 537.5 744.9C538.5 744.1 539.9 746.6 540.8 748.2C541.7 749.7 542.7 756.0 543.6 755.8C544.6 755.7 546.4 747.4 547.4 747.1C548.4 746.8 549.9 752.6 550.7 753.6C551.4 754.7 552.0 755.4 552.8 754.7C553.7 754.1 555.8 750.7 556.8 749.3C557.8 747.8 559.1 744.3 560.1 744.4C561.1 744.6 562.8 747.0 563.8 750.4C564.8 753.7 566.1 763.7 567.1 767.9C568.0 772.1 569.4 777.7 570.4 779.9C571.3 782.1 572.6 783.1 573.6 783.2C574.7 783.3 576.5 782.0 577.5 780.9C578.6 779.8 580.3 776.3 581.0 775.3C581.8 774.2 582.2 773.3 582.8 773.5C583.3 773.8 584.4 777.3 584.9 777.0C585.4 776.8 585.7 774.6 586.3 771.8C586.8 768.9 588.2 757.2 588.9 756.9C589.6 756.5 590.6 769.4 591.2 769.1C591.8 768.9 592.6 757.6 593.3 755.1C594.0 752.6 595.5 751.2 596.3 751.6C597.0 752.0 598.0 757.5 598.5 757.8C599.1 758.0 599.6 756.3 599.9 753.4C600.2 750.4 600.3 744.5 600.6 736.7C600.9 728.9 601.6 707.6 602.0 698.2C602.4 688.8 603.0 675.6 603.4 670.2C603.9 664.7 604.6 658.9 605.0 659.6C605.5 660.3 606.3 673.8 606.8 675.1C607.3 676.3 608.1 673.6 608.5 668.4C609.0 663.2 609.6 648.3 609.9 638.6C610.3 628.9 610.8 610.5 611.2 600.1C611.5 589.7 611.9 572.1 612.2 565.0C612.5 558.0 613.1 550.6 613.4 550.1C613.8 549.7 614.2 553.5 614.7 561.5C615.1 569.6 615.8 594.2 616.4 607.1C617.0 620.0 618.1 642.6 618.7 652.6C619.3 662.7 620.0 678.0 620.6 678.0C621.2 678.0 622.2 660.2 622.7 652.6C623.2 645.1 623.8 629.8 624.1 624.6C624.5 619.4 624.8 614.4 625.2 615.8C625.5 617.3 626.1 626.2 626.6 635.1C627.0 644.1 627.8 667.5 628.3 678.9C628.8 690.3 629.6 706.3 630.1 715.7C630.6 725.1 631.2 739.8 631.8 745.5C632.4 751.2 633.7 752.3 634.5 756.0C635.2 759.7 636.3 768.2 637.1 771.8C637.8 775.4 639.0 779.7 639.7 781.4C640.5 783.1 642.0 783.2 642.3 783.5" fill="none" stroke="#1a1a1a" stroke-width="1.15" stroke-linejoin="round" />
<path d="M149.5 783.6C150.8 784.1 156.6 786.2 159.0 786.9C161.4 787.5 165.0 787.5 166.6 788.2C168.2 788.9 169.0 790.7 170.4 791.6C171.7 792.5 174.4 793.5 176.1 794.5C177.7 795.4 180.3 798.4 181.8 798.3C183.2 798.1 185.2 795.1 186.5 793.5C187.8 791.9 190.0 787.1 191.2 786.9C192.5 786.6 193.7 791.5 195.0 791.6C196.4 791.7 199.3 788.1 200.7 787.8C202.2 787.5 204.4 788.9 205.5 789.7C206.6 790.5 207.4 792.2 208.3 793.5C209.3 794.9 210.8 798.4 212.1 799.2C213.5 800.0 216.5 796.8 217.8 799.2C219.2 801.6 220.5 815.1 221.6 816.3C222.7 817.5 224.5 806.1 225.4 807.7C226.3 809.4 227.5 822.7 228.3 827.7C229.0 832.6 229.9 841.8 230.7 842.9C231.5 843.9 233.1 838.8 233.9 835.3C234.8 831.8 236.0 824.1 236.8 818.2C237.6 812.3 238.9 798.0 239.6 793.5C240.4 789.0 241.3 786.2 241.9 786.5C242.5 786.8 243.4 792.4 244.0 795.4C244.6 798.4 245.3 808.0 245.9 807.7C246.5 807.5 247.6 796.1 248.2 793.5C248.8 791.0 249.5 789.4 250.1 789.7C250.7 790.0 251.7 795.9 252.4 795.4C253.0 794.9 254.2 787.6 254.8 785.9C255.4 784.2 256.5 784.0 256.7 783.6" fill="none" stroke="#1a1a1a" stroke-width="1.15" stroke-linejoin="round" />
<path d="M392.0 783.6C393.1 783.7 397.4 783.7 399.7 784.3C402.0 784.9 406.3 786.8 408.5 787.6C410.6 788.4 413.2 788.8 415.0 789.8C416.9 790.8 420.2 794.3 421.6 794.6C423.0 794.9 423.8 791.6 424.9 792.0C426.0 792.4 428.2 797.2 429.3 797.4C430.3 797.7 431.3 793.7 432.1 793.7C432.9 793.7 434.0 797.3 434.7 797.4C435.5 797.6 436.4 794.3 437.4 794.6C438.3 794.9 440.3 798.7 441.3 799.6C442.3 800.6 443.8 801.2 444.6 801.2C445.4 801.2 446.1 799.4 446.8 799.6C447.5 799.9 448.9 801.5 449.6 802.9C450.3 804.3 451.2 808.9 451.8 809.5C452.4 810.0 453.5 806.8 454.0 806.9C454.5 806.9 454.9 810.5 455.5 809.9C456.2 809.4 457.9 803.7 458.8 802.9C459.8 802.2 461.0 805.6 462.1 804.7C463.2 803.7 465.4 797.5 466.5 796.3C467.6 795.2 468.8 795.1 469.8 796.3C470.7 797.6 472.3 803.7 473.1 805.1C473.8 806.5 474.5 805.4 475.2 806.2C476.0 807.0 477.6 810.1 478.5 810.6C479.5 811.0 480.9 810.7 481.8 809.5C482.7 808.2 484.3 802.5 485.1 801.8C485.9 801.1 486.7 804.5 487.3 804.7C487.9 804.8 488.7 802.2 489.5 802.9C490.3 803.6 492.1 807.9 492.8 809.5C493.4 811.0 493.8 815.1 494.3 813.9C494.8 812.6 495.9 803.0 496.5 800.7C497.0 798.5 497.7 797.2 498.2 798.1C498.8 799.0 499.7 803.8 500.4 807.3C501.1 810.8 502.3 821.4 503.1 822.6C503.8 823.9 505.0 818.2 505.9 816.0C506.8 813.9 508.4 808.7 509.2 807.3C510.0 805.9 510.8 804.5 511.4 806.2C512.0 807.9 512.9 815.5 513.6 819.3C514.2 823.2 515.0 833.1 515.8 833.6C516.5 834.0 518.0 824.5 518.6 822.6C519.2 820.7 519.2 820.8 520.0 820.0C520.8 819.2 523.4 817.7 524.4 817.1C525.3 816.6 525.9 815.0 526.6 816.0C527.2 817.1 528.1 823.4 528.8 824.8C529.4 826.2 530.3 825.5 530.9 825.9C531.6 826.3 532.9 829.2 533.6 827.7C534.3 826.1 535.1 817.1 535.8 815.0C536.4 812.8 537.2 811.8 538.0 812.8C538.7 813.7 539.9 820.7 540.8 821.5C541.7 822.3 543.2 819.5 544.1 818.2C545.0 817.0 546.6 814.0 547.4 812.8C548.1 811.5 548.8 809.5 549.6 809.5C550.3 809.5 551.9 812.2 552.8 812.8C553.8 813.3 555.0 813.6 556.1 813.4C557.2 813.3 559.4 812.3 560.5 811.7C561.6 811.0 563.0 808.5 563.8 808.8C564.6 809.1 565.3 811.9 566.0 813.9C566.7 815.8 567.8 822.8 568.6 822.6C569.4 822.5 570.6 816.5 571.5 812.8C572.3 809.0 573.8 799.9 574.7 796.3C575.7 792.8 577.1 789.2 578.0 787.6C579.0 786.0 580.2 785.4 581.3 785.0C582.4 784.5 583.2 784.4 585.7 784.3C588.2 784.2 596.2 783.8 598.8 784.3C601.5 784.8 603.1 785.9 604.3 787.6C605.5 789.3 606.4 793.1 607.1 796.3C607.9 799.6 609.2 808.9 609.7 810.7C610.3 812.6 610.6 811.7 611.0 809.4C611.4 807.2 612.0 797.8 612.3 795.0C612.7 792.2 613.2 790.1 613.6 789.7C614.1 789.3 614.8 790.5 615.2 792.3C615.7 794.2 616.5 800.7 616.9 802.8C617.4 805.0 617.8 807.6 618.2 807.4C618.7 807.3 619.5 804.0 620.0 801.5C620.5 799.0 621.2 792.0 621.8 789.7C622.4 787.4 623.2 785.7 623.9 785.1C624.6 784.5 626.1 784.9 626.8 785.5C627.5 786.2 628.3 787.8 628.8 789.7C629.2 791.6 629.7 795.6 630.1 798.9C630.4 802.3 631.0 810.5 631.4 813.4C631.8 816.2 632.2 818.8 632.7 819.3C633.2 819.7 634.1 816.7 634.7 816.6C635.2 816.5 636.2 816.3 636.6 818.6C637.1 820.9 637.6 826.6 638.0 833.1C638.3 839.6 638.9 855.9 639.3 864.6C639.6 873.3 640.3 888.0 640.6 894.8C640.9 901.6 641.2 910.1 641.5 912.6C641.8 915.0 642.5 912.9 642.8 911.9C643.2 910.9 643.5 906.0 643.9 905.3C644.2 904.7 644.8 904.1 645.2 907.3C645.6 910.5 646.0 919.6 646.5 927.7C647.0 935.8 647.9 955.6 648.5 964.5C649.0 973.3 649.7 989.7 650.2 990.1C650.6 990.4 651.3 975.9 651.8 967.1C652.3 958.2 653.3 937.3 653.7 927.7C654.2 918.0 654.6 904.8 655.0 898.8C655.4 892.7 656.2 885.0 656.6 885.0C657.0 885.0 657.5 890.9 657.9 898.8C658.3 906.7 659.0 931.6 659.4 940.8C659.8 950.0 660.3 962.9 660.7 963.8C661.1 964.7 661.8 954.4 662.3 947.4C662.7 940.4 663.5 923.3 663.8 914.5C664.2 905.8 664.7 889.7 664.9 885.6" fill="none" stroke="#1a1a1a" stroke-width="1.15" stroke-linejoin="round" />
</g>
<path d="M115.7 783.8L665.7 783.8" stroke="#111" stroke-width="1.50"/>
<path d="M611.6 535.9L611.6 1031.4" stroke="#111" stroke-width="1.50"/>
<rect x="115.7" y="535.9" width="550.0" height="495.5" fill="none" stroke="#111" stroke-width="1.50"/>
<path d="M111.1 1015.8L115.7 1015.8" stroke="#111" stroke-width="1.50"/>
<path d="M106.9 990.0L115.7 990.0" stroke="#111" stroke-width="1.50"/>
<text x="101.5" y="998.0" font-family='"Liberation Serif", serif' font-size="26.0" text-anchor="end" fill="#111" >20</text>
<path d="M111.1 964.2L115.7 964.2" stroke="#111" stroke-width="1.50"/>
<path d="M106.9 938.4L115.7 938.4" stroke="#111" stroke-width="1.50"/>
<text x="101.5" y="946.4" font-family='"Liberation Serif", serif' font-size="26.0" text-anchor="end" fill="#111" >15</text>
<path d="M111.1 912.7L115.7 912.7" stroke="#111" stroke-width="1.50"/>
<path d="M106.9 886.9L115.7 886.9" stroke="#111" stroke-width="1.50"/>
<text x="101.5" y="894.9" font-family='"Liberation Serif", serif' font-size="26.0" text-anchor="end" fill="#111" >10</text>
<path d="M111.1 861.1L115.7 861.1" stroke="#111" stroke-width="1.50"/>
<path d="M106.9 835.3L115.7 835.3" stroke="#111" stroke-width="1.50"/>
<text x="101.5" y="843.3" font-family='"Liberation Serif", serif' font-size="26.0" text-anchor="end" fill="#111" >5</text>
<path d="M111.1 809.6L115.7 809.6" stroke="#111" stroke-width="1.50"/>
<path d="M106.9 783.8L115.7 783.8" stroke="#111" stroke-width="1.50"/>
<text x="101.5" y="791.8" font-family='"Liberation Serif", serif' font-size="26.0" text-anchor="end" fill="#111" >0</text>
<path d="M111.1 758.0L115.7 758.0" stroke="#111" stroke-width="1.50"/>
<path d="M106.9 732.2L115.7 732.2" stroke="#111" stroke-width="1.50"/>
<text x="101.5" y="740.2" font-family='"Liberation Serif", serif' font-size="26.0" text-anchor="end" fill="#111" >5</text>
<path d="M111.1 706.5L115.7 706.5" stroke="#111" stroke-width="1.50"/>
<path d="M106.9 680.7L115.7 680.7" stroke="#111" stroke-width="1.50"/>
<text x="101.5" y="688.7" font-family='"Liberation Serif", serif' font-size="26.0" text-anchor="end" fill="#111" >10</text>
<path d="M111.1 654.9L115.7 654.9" stroke="#111" stroke-width="1.50"/>
<path d="M106.9 629.1L115.7 629.1" stroke="#111" stroke-width="1.50"/>
<text x="101.5" y="637.1" font-family='"Liberation Serif", serif' font-size="26.0" text-anchor="end" fill="#111" >15</text>
<path d="M111.1 603.4L115.7 603.4" stroke="#111" stroke-width="1.50"/>
<path d="M106.9 577.6L115.7 577.6" stroke="#111" stroke-width="1.50"/>
<text x="101.5" y="585.6" font-family='"Liberation Serif", serif' font-size="26.0" text-anchor="end" fill="#111" >20</text>
<path d="M111.1 551.8L115.7 551.8" stroke="#111" stroke-width="1.50"/>
<path d="M115.7 1031.4L115.7 1041.0" stroke="#111" stroke-width="1.50"/>
<text x="115.7" y="1068.6" font-family='"Liberation Serif", serif' font-size="26.0" text-anchor="middle" fill="#111" >-14</text>
<path d="M151.1 1031.4L151.1 1036.2" stroke="#111" stroke-width="1.50"/>
<path d="M186.5 1031.4L186.5 1041.0" stroke="#111" stroke-width="1.50"/>
<text x="186.5" y="1068.6" font-family='"Liberation Serif", serif' font-size="26.0" text-anchor="middle" fill="#111" >-12</text>
<path d="M222.0 1031.4L222.0 1036.2" stroke="#111" stroke-width="1.50"/>
<path d="M257.4 1031.4L257.4 1041.0" stroke="#111" stroke-width="1.50"/>
<text x="257.4" y="1068.6" font-family='"Liberation Serif", serif' font-size="26.0" text-anchor="middle" fill="#111" >-10</text>
<path d="M292.8 1031.4L292.8 1036.2" stroke="#111" stroke-width="1.50"/>
<path d="M328.2 1031.4L328.2 1041.0" stroke="#111" stroke-width="1.50"/>
<text x="328.2" y="1068.6" font-family='"Liberation Serif", serif' font-size="26.0" text-anchor="middle" fill="#111" >-8</text>
<path d="M363.6 1031.4L363.6 1036.2" stroke="#111" stroke-width="1.50"/>
<path d="M399.1 1031.4L399.1 1041.0" stroke="#111" stroke-width="1.50"/>
<text x="399.1" y="1068.6" font-family='"Liberation Serif", serif' font-size="26.0" text-anchor="middle" fill="#111" >-6</text>
<path d="M434.5 1031.4L434.5 1036.2" stroke="#111" stroke-width="1.50"/>
<path d="M469.9 1031.4L469.9 1041.0" stroke="#111" stroke-width="1.50"/>
<text x="469.9" y="1068.6" font-family='"Liberation Serif", serif' font-size="26.0" text-anchor="middle" fill="#111" >-4</text>
<path d="M505.3 1031.4L505.3 1036.2" stroke="#111" stroke-width="1.50"/>
<path d="M540.8 1031.4L540.8 1041.0" stroke="#111" stroke-width="1.50"/>
<text x="540.8" y="1068.6" font-family='"Liberation Serif", serif' font-size="26.0" text-anchor="middle" fill="#111" >-2</text>
<path d="M576.2 1031.4L576.2 1036.2" stroke="#111" stroke-width="1.50"/>
<path d="M611.6 1031.4L611.6 1041.0" stroke="#111" stroke-width="1.50"/>
<text x="611.6" y="1068.6" font-family='"Liberation Serif", serif' font-size="26.0" text-anchor="middle" fill="#111" >0</text>
<path d="M647.0 1031.4L647.0 1036.2" stroke="#111" stroke-width="1.50"/>
<text x="395.3" y="1116.0" font-family='"Liberation Serif", serif' font-size="34.0" text-anchor="middle" fill="#111" >E(eV)</text>
<text transform="translate(52.6 772.3) rotate(-90)" font-family='"Liberation Serif", serif' font-size="36.3" text-anchor="middle" fill="#111">Density of States (1/eV)</text>
<text x="576.0" y="571.3" font-family='"Liberation Serif", serif' font-size="36.0" text-anchor="start" fill="#111" >E</text>
<text x="596.2" y="586.0" font-family='"Liberation Serif", serif' font-size="21.0" text-anchor="start" fill="#111" >F</text>
<text x="7.2" y="1183.6" font-family='"Liberation Serif", serif' font-size="27.0" text-anchor="start" fill="#111" >(c)</text>
<clipPath id="cc"><rect x="92.3" y="1198.8" width="565.4" height="437.4"/></clipPath>
<path d="M92.3 1417.6L657.7 1417.6" stroke="#222" stroke-width="1.10"/>
<g clip-path="url(#cc)">
<path d="M440.0 1417.6C443.5 1417.5 458.5 1417.2 464.8 1416.9C471.1 1416.6 479.4 1415.8 484.7 1415.4C489.9 1415.0 497.8 1414.1 502.0 1413.9C506.3 1413.6 509.2 1413.6 514.4 1413.6C519.7 1413.7 532.9 1414.1 539.3 1414.4C545.6 1414.7 554.9 1415.5 559.1 1415.9C563.3 1416.2 566.2 1416.8 569.0 1416.9C571.8 1416.9 576.1 1416.6 579.0 1416.4C581.8 1416.2 586.1 1415.4 588.9 1415.4C591.7 1415.4 595.8 1416.3 598.8 1416.4C601.8 1416.4 609.2 1416.0 610.0 1415.9C604.5 1415.8 604.5 1415.6 604.5 1415.6C605.4 1415.6 613.0 1415.7 615.9 1415.9C618.9 1416.2 622.7 1417.2 625.4 1417.5C628.1 1417.8 631.9 1418.0 634.9 1418.0C637.9 1418.0 643.1 1417.4 646.3 1417.5C649.5 1417.5 655.7 1418.1 657.3 1418.2" fill="none" stroke="#3ddc3d" stroke-width="1.00" stroke-linejoin="round" stroke-dasharray="4 2 1 2" />
<path d="M440.0 1418.1C443.5 1418.2 458.5 1418.6 464.8 1418.9C471.1 1419.1 479.4 1419.5 484.7 1419.9C489.9 1420.2 497.1 1420.8 502.0 1421.1C507.0 1421.4 514.1 1421.9 519.4 1421.8C524.7 1421.7 533.6 1420.7 539.3 1420.3C544.9 1420.0 554.2 1419.6 559.1 1419.4C564.0 1419.1 565.4 1418.4 574.0 1418.4C582.6 1418.3 611.6 1418.6 619.7 1419.0C627.8 1419.4 628.4 1420.7 631.1 1421.3C633.8 1421.8 636.5 1422.8 638.7 1422.8C640.8 1422.8 643.6 1421.5 646.3 1421.3C648.9 1421.0 655.7 1420.9 657.3 1420.9" fill="none" stroke="#3ddc3d" stroke-width="1.00" stroke-linejoin="round" stroke-dasharray="4 2 1 2" />
<path d="M150.0 1417.0L228.0 1417.0" fill="none" stroke="#e05050" stroke-width="0.90" stroke-linejoin="round" stroke-dasharray="1 3" />
<path d="M497.0 1417.2L657.0 1417.2" fill="none" stroke="#e05050" stroke-width="0.90" stroke-linejoin="round" stroke-dasharray="1 3" />
<path d="M469.8 1417.9C471.9 1417.8 480.8 1417.5 484.7 1417.4C488.5 1417.2 494.3 1417.2 497.1 1416.9C499.9 1416.6 502.1 1415.7 504.5 1415.4C507.0 1415.0 511.6 1414.7 514.4 1414.4C517.3 1414.0 521.6 1413.3 524.4 1412.9C527.2 1412.6 532.4 1412.3 534.3 1411.9C536.2 1411.6 537.0 1410.4 538.0 1410.4C539.1 1410.4 540.5 1412.1 541.7 1411.9C543.0 1411.8 545.5 1409.9 546.7 1409.4C547.9 1409.0 549.4 1408.7 550.4 1408.9C551.5 1409.2 553.1 1410.3 554.1 1411.2C555.2 1412.1 556.8 1414.4 557.9 1415.4C558.9 1416.3 560.4 1417.6 561.6 1417.9C562.8 1418.1 565.1 1417.7 566.6 1417.4C568.0 1417.0 570.5 1415.5 571.5 1415.4C572.6 1415.3 573.4 1417.5 574.0 1416.9C574.6 1416.3 575.5 1412.9 576.0 1411.2C576.5 1409.5 577.1 1405.3 577.7 1405.0C578.3 1404.6 579.5 1409.0 580.2 1408.7C580.9 1408.3 581.9 1404.2 582.7 1402.5C583.4 1400.8 584.8 1397.3 585.5 1396.9C586.3 1396.5 587.2 1400.5 587.8 1399.7C588.4 1398.9 589.2 1395.1 589.7 1391.2C590.2 1387.3 590.8 1379.7 591.2 1372.2C591.7 1364.7 592.6 1346.0 593.1 1338.0C593.7 1330.1 594.6 1318.4 595.0 1316.2C595.5 1314.1 596.2 1321.2 596.6 1322.9C597.0 1324.5 597.5 1327.9 597.9 1327.6C598.3 1327.3 599.0 1326.5 599.4 1321.0C599.8 1315.4 600.3 1299.2 600.7 1288.7C601.1 1278.2 601.9 1256.9 602.3 1246.9C602.6 1237.0 602.9 1222.5 603.2 1218.5C603.5 1214.4 604.1 1214.4 604.5 1218.5C604.9 1222.5 605.5 1237.0 606.0 1246.9C606.6 1256.9 607.7 1278.5 608.3 1288.7C608.9 1298.9 609.8 1313.7 610.2 1319.1C610.6 1324.4 610.8 1327.7 611.2 1326.6C611.5 1325.6 612.2 1317.4 612.7 1311.5C613.1 1305.6 614.0 1289.5 614.4 1284.9C614.8 1280.3 615.2 1277.2 615.5 1278.8C615.9 1280.4 616.4 1288.2 616.9 1296.3C617.3 1304.4 618.2 1325.9 618.8 1336.1C619.3 1346.4 620.1 1361.1 620.7 1368.4C621.2 1375.7 621.9 1383.1 622.6 1387.4C623.2 1391.7 624.6 1395.8 625.4 1398.8C626.2 1401.7 627.6 1406.1 628.3 1408.3C628.9 1410.4 629.5 1412.7 630.1 1414.0C630.8 1415.2 632.6 1416.9 633.0 1417.4" fill="none" stroke="#4848d8" stroke-width="1.00" stroke-linejoin="round" />
<path d="M469.8 1418.1C471.9 1418.1 480.8 1418.3 484.7 1418.4C488.5 1418.5 494.3 1418.7 497.1 1418.9C499.9 1419.0 502.1 1419.2 504.5 1419.4C507.0 1419.5 511.6 1419.7 514.4 1419.9C517.3 1420.0 521.6 1420.3 524.4 1420.3C527.2 1420.4 531.5 1420.3 534.3 1420.3C537.1 1420.3 541.8 1420.2 544.2 1420.3C546.7 1420.5 549.9 1420.7 551.7 1421.1C553.4 1421.4 555.2 1422.8 556.6 1422.8C558.0 1422.8 560.2 1421.7 561.6 1421.1C563.0 1420.5 564.8 1419.1 566.6 1418.6C568.3 1418.2 570.2 1417.9 574.0 1417.9C577.8 1417.8 589.9 1417.9 593.1 1418.0C596.4 1418.2 595.9 1418.2 596.9 1419.0C598.0 1419.8 599.8 1423.6 600.7 1423.7C601.7 1423.9 602.9 1420.6 603.6 1419.9C604.3 1419.3 604.8 1418.3 605.5 1419.0C606.2 1419.7 607.9 1424.4 608.7 1424.7C609.5 1424.9 610.4 1421.8 611.2 1420.9C611.9 1419.9 613.1 1418.4 614.0 1418.0C614.9 1417.6 616.6 1417.4 617.4 1418.0C618.2 1418.7 619.1 1420.1 619.7 1422.8C620.4 1425.5 621.3 1434.6 622.0 1437.0C622.7 1439.4 623.7 1439.1 624.5 1439.5C625.2 1439.9 626.6 1438.5 627.3 1439.9C628.0 1441.3 628.7 1444.2 629.2 1449.3C629.7 1454.5 630.6 1467.6 631.1 1475.9C631.6 1484.3 632.6 1502.8 633.0 1508.2C633.4 1513.6 633.7 1513.7 634.1 1513.9C634.5 1514.0 635.4 1507.5 635.8 1509.1C636.3 1510.7 636.7 1518.4 637.2 1525.3C637.6 1532.1 638.5 1548.4 639.1 1557.5C639.7 1566.7 640.9 1587.9 641.5 1589.8C642.2 1591.7 642.9 1578.3 643.4 1570.8C644.0 1563.3 644.9 1545.0 645.3 1536.6C645.8 1528.3 646.3 1516.6 646.7 1512.0C647.1 1507.4 647.7 1502.7 648.2 1504.0C648.6 1505.3 649.3 1513.9 649.7 1521.5C650.1 1529.0 650.7 1550.5 651.0 1557.5C651.4 1564.5 652.0 1571.6 652.4 1570.8C652.8 1570.0 653.4 1558.8 653.9 1551.8C654.4 1544.8 655.3 1531.4 655.8 1521.5C656.3 1511.5 657.1 1487.3 657.3 1481.6" fill="none" stroke="#4848d8" stroke-width="1.00" stroke-linejoin="round" />
</g>
<path d="M92.3 1417.8L657.7 1417.8" stroke="#1a1a8c" stroke-width="0.90"/>
<path d="M601.9 1198.8L601.9 1636.2" stroke="#333" stroke-width="1.50"/>
<rect x="92.3" y="1198.8" width="565.4" height="437.4" fill="none" stroke="#111" stroke-width="1.30"/>
<path d="M86.7 1616.6L92.3 1616.6" stroke="#111" stroke-width="1.10"/>
<text x="83.9" y="1624.3" font-family='"Liberation Serif", serif' font-size="23.5" text-anchor="end" fill="#111" >10</text>
<path d="M88.9 1596.7L92.3 1596.7" stroke="#111" stroke-width="1.10"/>
<path d="M86.7 1576.8L92.3 1576.8" stroke="#111" stroke-width="1.10"/>
<text x="83.9" y="1584.5" font-family='"Liberation Serif", serif' font-size="23.5" text-anchor="end" fill="#111" >8</text>
<path d="M88.9 1556.9L92.3 1556.9" stroke="#111" stroke-width="1.10"/>
<path d="M86.7 1537.0L92.3 1537.0" stroke="#111" stroke-width="1.10"/>
<text x="83.9" y="1544.7" font-family='"Liberation Serif", serif' font-size="23.5" text-anchor="end" fill="#111" >6</text>
<path d="M88.9 1517.1L92.3 1517.1" stroke="#111" stroke-width="1.10"/>
<path d="M86.7 1497.2L92.3 1497.2" stroke="#111" stroke-width="1.10"/>
<text x="83.9" y="1504.9" font-family='"Liberation Serif", serif' font-size="23.5" text-anchor="end" fill="#111" >4</text>
<path d="M88.9 1477.3L92.3 1477.3" stroke="#111" stroke-width="1.10"/>
<path d="M86.7 1457.4L92.3 1457.4" stroke="#111" stroke-width="1.10"/>
<text x="83.9" y="1465.1" font-family='"Liberation Serif", serif' font-size="23.5" text-anchor="end" fill="#111" >2</text>
<path d="M88.9 1437.5L92.3 1437.5" stroke="#111" stroke-width="1.10"/>
<path d="M86.7 1417.6L92.3 1417.6" stroke="#111" stroke-width="1.10"/>
<text x="83.9" y="1425.3" font-family='"Liberation Serif", serif' font-size="23.5" text-anchor="end" fill="#111" >0</text>
<path d="M88.9 1397.7L92.3 1397.7" stroke="#111" stroke-width="1.10"/>
<path d="M86.7 1377.8L92.3 1377.8" stroke="#111" stroke-width="1.10"/>
<text x="83.9" y="1385.5" font-family='"Liberation Serif", serif' font-size="23.5" text-anchor="end" fill="#111" >2</text>
<path d="M88.9 1357.9L92.3 1357.9" stroke="#111" stroke-width="1.10"/>
<path d="M86.7 1338.0L92.3 1338.0" stroke="#111" stroke-width="1.10"/>
<text x="83.9" y="1345.7" font-family='"Liberation Serif", serif' font-size="23.5" text-anchor="end" fill="#111" >4</text>
<path d="M88.9 1318.1L92.3 1318.1" stroke="#111" stroke-width="1.10"/>
<path d="M86.7 1298.2L92.3 1298.2" stroke="#111" stroke-width="1.10"/>
<text x="83.9" y="1305.9" font-family='"Liberation Serif", serif' font-size="23.5" text-anchor="end" fill="#111" >6</text>
<path d="M88.9 1278.3L92.3 1278.3" stroke="#111" stroke-width="1.10"/>
<path d="M86.7 1258.4L92.3 1258.4" stroke="#111" stroke-width="1.10"/>
<text x="83.9" y="1266.1" font-family='"Liberation Serif", serif' font-size="23.5" text-anchor="end" fill="#111" >8</text>
<path d="M88.9 1238.5L92.3 1238.5" stroke="#111" stroke-width="1.10"/>
<path d="M86.7 1218.6L92.3 1218.6" stroke="#111" stroke-width="1.10"/>
<text x="83.9" y="1226.3" font-family='"Liberation Serif", serif' font-size="23.5" text-anchor="end" fill="#111" >10</text>
<path d="M92.3 1636.2L92.3 1643.2" stroke="#111" stroke-width="1.10"/>
<text x="92.3" y="1666.4" font-family='"Liberation Serif", serif' font-size="24.0" text-anchor="middle" fill="#111" >-14</text>
<path d="M128.7 1636.2L128.7 1640.0" stroke="#111" stroke-width="1.10"/>
<path d="M165.1 1636.2L165.1 1643.2" stroke="#111" stroke-width="1.10"/>
<text x="165.1" y="1666.4" font-family='"Liberation Serif", serif' font-size="24.0" text-anchor="middle" fill="#111" >-12</text>
<path d="M201.5 1636.2L201.5 1640.0" stroke="#111" stroke-width="1.10"/>
<path d="M237.9 1636.2L237.9 1643.2" stroke="#111" stroke-width="1.10"/>
<text x="237.9" y="1666.4" font-family='"Liberation Serif", serif' font-size="24.0" text-anchor="middle" fill="#111" >-10</text>
<path d="M274.3 1636.2L274.3 1640.0" stroke="#111" stroke-width="1.10"/>
<path d="M310.7 1636.2L310.7 1643.2" stroke="#111" stroke-width="1.10"/>
<text x="310.7" y="1666.4" font-family='"Liberation Serif", serif' font-size="24.0" text-anchor="middle" fill="#111" >-8</text>
<path d="M347.1 1636.2L347.1 1640.0" stroke="#111" stroke-width="1.10"/>
<path d="M383.5 1636.2L383.5 1643.2" stroke="#111" stroke-width="1.10"/>
<text x="383.5" y="1666.4" font-family='"Liberation Serif", serif' font-size="24.0" text-anchor="middle" fill="#111" >-6</text>
<path d="M419.9 1636.2L419.9 1640.0" stroke="#111" stroke-width="1.10"/>
<path d="M456.3 1636.2L456.3 1643.2" stroke="#111" stroke-width="1.10"/>
<text x="456.3" y="1666.4" font-family='"Liberation Serif", serif' font-size="24.0" text-anchor="middle" fill="#111" >-4</text>
<path d="M492.7 1636.2L492.7 1640.0" stroke="#111" stroke-width="1.10"/>
<path d="M529.1 1636.2L529.1 1643.2" stroke="#111" stroke-width="1.10"/>
<text x="529.1" y="1666.4" font-family='"Liberation Serif", serif' font-size="24.0" text-anchor="middle" fill="#111" >-2</text>
<path d="M565.5 1636.2L565.5 1640.0" stroke="#111" stroke-width="1.10"/>
<path d="M601.9 1636.2L601.9 1643.2" stroke="#111" stroke-width="1.10"/>
<text x="601.9" y="1666.4" font-family='"Liberation Serif", serif' font-size="24.0" text-anchor="middle" fill="#111" >0</text>
<path d="M638.3 1636.2L638.3 1640.0" stroke="#111" stroke-width="1.10"/>
<text x="374.8" y="1709.7" font-family='"Liberation Serif", serif' font-size="24.3" text-anchor="middle" fill="#111" >E(eV)</text>
<text transform="translate(56.3 1417.8) rotate(-90)" font-family='"Liberation Serif", serif' font-size="25.0" text-anchor="middle" fill="#111">Local Density of States (1/eV)</text>
<text x="571.4" y="1234.0" font-family='"Liberation Serif", serif' font-size="33.0" text-anchor="start" fill="#111" >E</text>
<text x="589.5" y="1246.2" font-family='"Liberation Serif", serif' font-size="18.0" text-anchor="start" fill="#111" >F</text>
<rect x="307.4" y="1206.4" width="96" height="156.6" fill="#fff" stroke="#111" stroke-width="1.3"/>
<path d="M307.4 1363.4L404.0 1363.4" stroke="#111" stroke-width="1.40"/>
<path d="M316.2 1238.5L374.6 1238.5" fill="none" stroke="#444" stroke-width="1.00" stroke-linejoin="round" stroke-dasharray="3.2 2.6" />
<path d="M316.2 1269.5L374.6 1269.5" fill="none" stroke="#e27878" stroke-width="1.00" stroke-linejoin="round" stroke-dasharray="1 2.6" />
<path d="M316.2 1300.5L374.6 1300.5" fill="none" stroke="#4ae04a" stroke-width="1.00" stroke-linejoin="round" stroke-dasharray="5 2.2 1.2 2.2" />
<path d="M316.2 1331.5L374.6 1331.5" fill="none" stroke="#6a6ae0" stroke-width="1.30" stroke-linejoin="round" />
<text x="382.0" y="1245.7" font-family='"Liberation Sans", sans-serif' font-size="25.5" text-anchor="start" fill="#111" font-style="italic" >s</text>
<text x="382.0" y="1276.7" font-family='"Liberation Sans", sans-serif' font-size="25.5" text-anchor="start" fill="#111" font-style="italic" >p</text>
<text x="382.0" y="1307.7" font-family='"Liberation Sans", sans-serif' font-size="25.5" text-anchor="start" fill="#111" font-style="italic" >d</text>
<path d="M393.2 1324.6c-.4-1.6-2-2.4-3.6-2.2-2.6.3-4.2 2.6-5 5.4l-.9 3.2h-2.9l-.3 1.3h2.9l-2.7 10.2c-.6 2.2-1.4 3.6-2.8 3.4-.6-.1-.6-.5-.5-1 .1-.8-.5-1.3-1.2-1.2-.7.1-1.1.7-1 1.400.2 1.200 1.400 1.800 2.700 1.700 2.600-.200 4.200-2.700 5.100-6.100l2.200-8.400h3.300l.3-1.300h-3.300l.7-2.700c.6-2.200 1.500-3.700 2.900-3.700.7 0 .7.4.6.9-.1.800.5 1.300 1.200 1.300.8 0 1.400-.600 1.300-1.400z" fill="#111"/>
<text x="7.8" y="1751.5" font-family='"Liberation Serif", serif' font-size="27.0" text-anchor="start" fill="#111" >(d)</text>
<clipPath id="cd"><rect x="112.1" y="1769.0" width="572.9" height="442.6"/></clipPath>
<path d="M112.1 1990.4L683.6 1990.4" stroke="#1c1c1c" stroke-width="1.30"/>
<g clip-path="url(#cd)">
<path d="M148.6 1989.9C149.2 1988.6 151.6 1984.0 153.0 1980.5C154.4 1977.0 156.9 1969.0 158.5 1965.2C160.0 1961.3 162.7 1955.1 163.9 1953.1C165.2 1951.1 166.3 1954.8 167.2 1950.9C168.2 1947.1 169.6 1931.5 170.5 1925.8C171.4 1920.0 173.0 1911.5 173.8 1910.4C174.6 1909.3 175.7 1919.6 176.4 1918.1C177.1 1916.5 178.0 1905.2 178.6 1899.5C179.2 1893.7 180.2 1878.5 180.8 1877.6C181.4 1876.7 182.4 1886.7 183.0 1892.9C183.5 1899.1 184.2 1919.5 184.7 1921.4C185.2 1923.2 186.0 1906.0 186.5 1906.0C187.0 1906.0 187.6 1915.5 188.0 1921.4C188.5 1927.3 189.1 1941.1 189.6 1947.7C190.0 1954.2 190.8 1968.0 191.3 1967.4C191.9 1966.7 192.9 1948.5 193.5 1943.3C194.1 1938.0 195.0 1932.6 195.7 1930.1C196.4 1927.7 197.7 1922.7 198.3 1925.8C198.9 1928.9 199.6 1946.3 200.1 1952.0C200.6 1957.8 201.2 1965.3 201.8 1966.3C202.4 1967.2 203.7 1960.0 204.4 1958.6C205.2 1957.2 206.4 1960.1 207.1 1956.4C207.8 1952.7 208.6 1938.8 209.3 1932.3C210.0 1925.8 211.4 1911.4 212.1 1910.4C212.8 1909.5 213.7 1918.6 214.3 1925.8C214.9 1932.9 215.8 1954.7 216.5 1960.8C217.2 1966.8 218.6 1969.7 219.3 1968.5C220.1 1967.2 221.1 1954.7 222.0 1952.0C222.8 1949.4 224.5 1952.6 225.2 1949.8C226.0 1947.1 226.7 1937.0 227.4 1932.3C228.2 1927.7 229.5 1917.9 230.3 1917.0C231.1 1916.1 232.2 1923.6 232.9 1925.8C233.6 1927.9 234.5 1932.6 235.1 1932.3C235.7 1932.0 236.7 1922.0 237.3 1923.6C237.9 1925.1 238.9 1937.1 239.5 1943.3C240.1 1949.5 241.1 1962.9 241.7 1967.4C242.2 1971.9 242.7 1981.5 243.2 1975.0C243.7 1968.5 244.5 1938.3 245.0 1921.4C245.4 1904.5 246.1 1872.4 246.5 1855.7C246.9 1838.9 247.4 1803.1 247.8 1803.1C248.2 1803.1 248.9 1838.9 249.3 1855.7C249.8 1872.4 250.5 1908.7 250.9 1921.4C251.2 1934.1 251.4 1947.0 251.7 1945.5C252.1 1943.9 252.7 1918.2 253.1 1910.4C253.4 1902.7 253.7 1892.3 254.2 1890.7C254.6 1889.2 255.5 1893.6 255.9 1899.5C256.3 1905.4 256.7 1923.0 257.0 1932.3C257.3 1941.6 257.8 1957.0 258.1 1965.2C258.4 1973.3 259.0 1986.4 259.2 1989.9" fill="none" stroke="#2a2a2a" stroke-width="1.00" stroke-linejoin="round" stroke-dasharray="3.4 2.8" />
<path d="M148.6 1990.3C149.2 1991.6 151.6 1996.2 153.0 1999.7C154.4 2003.2 156.8 2011.2 158.5 2015.0C160.2 2018.9 163.6 2025.5 165.0 2027.1C166.4 2028.6 167.5 2022.7 168.3 2026.0C169.1 2029.2 169.7 2044.2 170.5 2050.1C171.3 2056.0 173.0 2064.2 173.8 2067.6C174.6 2071.0 175.7 2072.0 176.4 2074.2C177.1 2076.3 177.9 2079.3 178.6 2082.9C179.3 2086.5 180.7 2099.6 181.5 2099.3C182.2 2099.0 183.1 2085.8 183.6 2080.7C184.2 2075.6 184.7 2065.1 185.2 2063.2C185.7 2061.3 186.8 2070.1 187.4 2067.6C187.9 2065.1 188.6 2051.9 189.1 2045.7C189.7 2039.5 190.8 2028.1 191.3 2023.8C191.8 2019.4 192.4 2012.6 192.8 2015.0C193.3 2017.5 194.0 2035.4 194.6 2041.3C195.2 2047.2 196.2 2054.8 196.8 2056.6C197.4 2058.5 198.4 2058.2 199.0 2054.4C199.5 2050.7 200.0 2036.1 200.5 2030.4C201.0 2024.6 201.6 2014.9 202.3 2013.9C202.9 2013.0 204.1 2021.6 204.9 2023.8C205.7 2026.0 207.0 2025.2 207.7 2029.3C208.4 2033.3 209.3 2043.7 209.9 2052.3C210.5 2060.8 211.5 2088.9 212.1 2089.5C212.7 2090.1 213.7 2066.6 214.3 2056.6C214.9 2046.7 215.9 2026.1 216.5 2019.4C217.1 2012.7 218.1 2008.9 218.7 2009.6C219.3 2010.2 220.1 2020.5 220.9 2023.8C221.6 2027.0 223.2 2028.5 224.2 2032.6C225.1 2036.6 226.5 2045.7 227.4 2052.3C228.4 2058.8 229.9 2077.9 230.7 2078.5C231.5 2079.2 232.3 2061.6 232.9 2056.6C233.5 2051.7 234.5 2043.7 235.1 2043.5C235.7 2043.3 236.7 2058.3 237.3 2055.5C237.9 2052.8 238.9 2030.8 239.5 2023.8C240.1 2016.8 241.1 2009.1 241.7 2006.3C242.2 2003.5 242.8 1998.5 243.2 2004.1C243.6 2009.7 244.0 2030.5 244.3 2045.7C244.6 2060.9 245.2 2091.4 245.6 2111.4C246.0 2131.4 246.7 2186.9 247.1 2186.9C247.6 2186.9 248.3 2129.8 248.7 2111.4C249.1 2092.9 249.7 2067.8 250.0 2056.6C250.3 2045.5 250.7 2031.0 251.1 2032.6C251.5 2034.1 252.2 2057.2 252.6 2067.6C253.1 2078.0 253.9 2105.9 254.4 2105.9C254.8 2105.9 255.5 2077.7 255.9 2067.6C256.3 2057.5 256.6 2045.7 257.0 2034.7C257.4 2023.8 258.5 1996.6 258.7 1990.3" fill="none" stroke="#2a2a2a" stroke-width="1.00" stroke-linejoin="round" stroke-dasharray="3.4 2.8" />
<path d="M420.0 1988.4L421.5 1988.4L423.0 1988.5L424.5 1988.6L426.0 1988.6L427.5 1988.5L429.0 1988.3L430.5 1988.1L432.0 1987.9L433.5 1987.8L435.0 1987.9L436.5 1988.3L438.0 1988.7L439.5 1989.1L441.0 1989.3L442.5 1989.3L444.0 1989.0L445.5 1988.4L447.0 1987.8L448.5 1987.3L450.0 1987.1L451.5 1987.3L453.0 1987.9L454.5 1988.7L456.0 1989.5L457.5 1990.0L459.0 1990.1L460.5 1989.6L462.0 1988.7L463.5 1987.7L465.0 1987.0L466.5 1986.6L468.0 1986.8L469.5 1987.5L471.0 1988.4L472.5 1989.3L474.0 1990.0L475.5 1990.2L477.0 1989.8L478.5 1989.1L480.0 1988.1L481.5 1987.2L483.0 1986.7L484.5 1986.7L486.0 1987.2L487.5 1988.1L489.0 1989.1L490.5 1989.8L492.0 1990.2L493.5 1990.0L495.0 1989.3L496.5 1988.4L498.0 1987.5L499.5 1986.8L501.0 1986.6L502.5 1987.0L504.0 1987.7L505.5 1988.7L507.0 1989.6L508.5 1990.1L510.0 1990.1L511.5 1989.6L513.0 1988.7L514.5 1987.7L516.0 1987.0L517.5 1986.6L519.0 1986.8L520.5 1987.5L522.0 1988.4L523.5 1989.3L525.0 1990.0L526.5 1990.2L528.0 1989.8L529.5 1989.1L531.0 1988.1L532.5 1987.2L534.0 1986.7L535.5 1986.7L537.0 1987.2L538.5 1988.1L540.0 1989.1L541.5 1989.8L543.0 1990.2L544.5 1990.0L546.0 1989.3L547.5 1988.4L549.0 1987.5L550.5 1986.8L552.0 1986.6L553.5 1987.0L555.0 1987.7L556.5 1988.7L558.0 1989.6L559.5 1990.1L561.0 1990.1L562.5 1989.6L564.0 1988.7L565.5 1987.7L567.0 1987.0L568.5 1986.6L570.0 1986.8L571.5 1987.5L573.0 1988.4L574.5 1989.3L576.0 1990.0L577.5 1990.2L579.0 1989.8L580.5 1989.1L582.0 1988.1L583.5 1987.2L585.0 1986.7L586.5 1986.7L588.0 1987.2L589.5 1988.1L591.0 1989.1L592.5 1989.8L594.0 1990.2L595.5 1990.0L597.0 1989.3L598.5 1988.4L600.0 1987.5L601.5 1986.8L603.0 1986.6L604.5 1987.0L606.0 1987.7L607.5 1988.7L609.0 1989.6L610.5 1990.1L612.0 1990.1L613.5 1989.6L615.0 1988.7L616.5 1987.7L618.0 1987.0L619.5 1986.6L621.0 1986.8L622.5 1987.5L624.0 1988.4L625.5 1989.3L627.0 1990.0L628.5 1990.2L630.0 1989.8L631.5 1989.1L633.0 1988.1L634.5 1987.2L636.0 1986.7L637.5 1986.7L639.0 1987.2L640.5 1988.1L642.0 1989.1L643.5 1989.8L645.0 1990.2L646.5 1990.0L648.0 1989.3L649.5 1988.4L651.0 1987.5L652.5 1986.8L654.0 1986.6L655.5 1987.0L657.0 1987.7L658.5 1988.7L660.0 1989.6L661.5 1990.1L663.0 1990.1L664.5 1989.6L666.0 1988.7L667.5 1987.7L669.0 1987.0L670.5 1986.6L672.0 1986.8L673.5 1987.5L675.0 1988.4L676.5 1989.3L678.0 1990.0L679.5 1990.2L681.0 1989.8L682.5 1989.1" fill="none" stroke="#3ddc3d" stroke-width="0.90" stroke-linejoin="round" stroke-dasharray="1 2.5" />
<path d="M420.0 1992.6L421.5 1992.7L423.0 1992.7L424.5 1992.7L426.0 1992.6L427.5 1992.5L429.0 1992.3L430.5 1992.1L432.0 1992.1L433.5 1992.2L435.0 1992.4L436.5 1992.7L438.0 1993.1L439.5 1993.4L441.0 1993.5L442.5 1993.4L444.0 1993.1L445.5 1992.6L447.0 1992.0L448.5 1991.5L450.0 1991.3L451.5 1991.3L453.0 1991.7L454.5 1992.4L456.0 1993.1L457.5 1993.9L459.0 1994.3L460.5 1994.3L462.0 1993.9L463.5 1993.2L465.0 1992.3L466.5 1991.5L468.0 1990.9L469.5 1990.8L471.0 1991.1L472.5 1991.8L474.0 1992.6L475.5 1993.5L477.0 1994.1L478.5 1994.4L480.0 1994.2L481.5 1993.7L483.0 1992.9L484.5 1992.0L486.0 1991.3L487.5 1990.9L489.0 1990.9L490.5 1991.3L492.0 1992.0L493.5 1992.9L495.0 1993.7L496.5 1994.3L498.0 1994.4L499.5 1994.1L501.0 1993.4L502.5 1992.6L504.0 1991.7L505.5 1991.1L507.0 1990.8L508.5 1991.0L510.0 1991.5L511.5 1992.3L513.0 1993.2L514.5 1993.9L516.0 1994.3L517.5 1994.3L519.0 1993.9L520.5 1993.2L522.0 1992.3L523.5 1991.5L525.0 1990.9L526.5 1990.8L528.0 1991.1L529.5 1991.8L531.0 1992.6L532.5 1993.5L534.0 1994.1L535.5 1994.4L537.0 1994.2L538.5 1993.7L540.0 1992.9L541.5 1992.0L543.0 1991.3L544.5 1990.9L546.0 1990.9L547.5 1991.3L549.0 1992.0L550.5 1992.9L552.0 1993.7L553.5 1994.3L555.0 1994.4L556.5 1994.1L558.0 1993.4L559.5 1992.6L561.0 1991.7L562.5 1991.1L564.0 1990.8L565.5 1991.0L567.0 1991.5L568.5 1992.3L570.0 1993.2L571.5 1993.9L573.0 1994.3L574.5 1994.3L576.0 1993.9L577.5 1993.2L579.0 1992.3L580.5 1991.5L582.0 1990.9L583.5 1990.8L585.0 1991.1L586.5 1991.8L588.0 1992.6L589.5 1993.5L591.0 1994.1L592.5 1994.4L594.0 1994.2L595.5 1993.7L597.0 1992.9L598.5 1992.0L600.0 1991.3L601.5 1990.9L603.0 1990.9L604.5 1991.3L606.0 1992.0L607.5 1992.9L609.0 1993.7L610.5 1994.3L612.0 1994.4L613.5 1994.1L615.0 1993.4L616.5 1992.6L618.0 1991.7L619.5 1991.1L621.0 1990.8L622.5 1991.0L624.0 1991.5L625.5 1992.3L627.0 1993.2L628.5 1993.9L630.0 1994.3L631.5 1994.3L633.0 1993.9L634.5 1993.2L636.0 1992.3L637.5 1991.5L639.0 1990.9L640.5 1990.8L642.0 1991.1L643.5 1991.8L645.0 1992.6L646.5 1993.5L648.0 1994.1L649.5 1994.4L651.0 1994.2L652.5 1993.7L654.0 1992.9L655.5 1992.0L657.0 1991.3L658.5 1990.9L660.0 1990.9L661.5 1991.3L663.0 1992.0L664.5 1992.9L666.0 1993.7L667.5 1994.3L669.0 1994.4L670.5 1994.1L672.0 1993.4L673.5 1992.6L675.0 1991.7L676.5 1991.1L678.0 1990.8L679.5 1991.0L681.0 1991.5L682.5 1992.3" fill="none" stroke="#3ddc3d" stroke-width="0.90" stroke-linejoin="round" stroke-dasharray="1 2.5" />
<path d="M422.0 1989.0L423.5 1989.0L425.0 1989.0L426.5 1988.8L428.0 1988.8L429.5 1988.8L431.0 1989.0L432.5 1989.3L434.0 1989.5L435.5 1989.4L437.0 1989.1L438.5 1988.7L440.0 1988.3L441.5 1988.3L443.0 1988.7L444.5 1989.3L446.0 1989.8L447.5 1990.0L449.0 1989.7L450.5 1988.9L452.0 1988.1L453.5 1987.7L455.0 1988.0L456.5 1988.8L458.0 1989.8L459.5 1990.4L461.0 1990.4L462.5 1989.6L464.0 1988.5L465.5 1987.6L467.0 1987.4L468.5 1988.0L470.0 1989.1L471.5 1990.1L473.0 1990.6L474.5 1990.3L476.0 1989.3L477.5 1988.2L479.0 1987.5L480.5 1987.5L482.0 1988.4L483.5 1989.5L485.0 1990.4L486.5 1990.6L488.0 1990.0L489.5 1988.9L491.0 1987.9L492.5 1987.4L494.0 1987.7L495.5 1988.7L497.0 1989.8L498.5 1990.5L500.0 1990.5L501.5 1989.6L503.0 1988.5L504.5 1987.6L506.0 1987.4L507.5 1988.0L509.0 1989.1L510.5 1990.1L512.0 1990.6L513.5 1990.3L515.0 1989.3L516.5 1988.2L518.0 1987.5L519.5 1987.5L521.0 1988.4L522.5 1989.5L524.0 1990.4L525.5 1990.6L527.0 1990.0L528.5 1988.9L530.0 1987.9L531.5 1987.4L533.0 1987.7L534.5 1988.7L536.0 1989.8L537.5 1990.5L539.0 1990.5L540.5 1989.6L542.0 1988.5L543.5 1987.6L545.0 1987.4L546.5 1988.0L548.0 1989.1L549.5 1990.1L551.0 1990.6L552.5 1990.3L554.0 1989.3L555.5 1988.2L557.0 1987.5L558.5 1987.5L560.0 1988.4L561.5 1989.5L563.0 1990.4L564.5 1990.6L566.0 1990.0L567.5 1988.9L569.0 1987.9L570.5 1987.4L572.0 1987.7L573.5 1988.7L575.0 1989.8L576.5 1990.5L578.0 1990.5L579.5 1989.6L581.0 1988.5L582.5 1987.6L584.0 1987.4L585.5 1988.0L587.0 1989.1L588.5 1990.1L590.0 1990.6L591.5 1990.3L593.0 1989.3L594.5 1988.2L596.0 1987.5L597.5 1987.5L599.0 1988.4" fill="none" stroke="#333" stroke-width="0.90" stroke-linejoin="round" stroke-dasharray="3 2.5" />
<path d="M422.0 1992.0L423.5 1992.1L425.0 1992.1L426.5 1992.1L428.0 1992.0L429.5 1991.9L431.0 1991.7L432.5 1991.6L434.0 1991.7L435.5 1991.9L437.0 1992.3L438.5 1992.6L440.0 1992.7L441.5 1992.5L443.0 1992.1L444.5 1991.6L446.0 1991.1L447.5 1991.0L449.0 1991.3L450.5 1991.9L452.0 1992.6L453.5 1993.1L455.0 1993.3L456.5 1992.9L458.0 1992.2L459.5 1991.3L461.0 1990.6L462.5 1990.4L464.0 1990.9L465.5 1991.8L467.0 1992.8L468.5 1993.4L470.0 1993.6L471.5 1993.1L473.0 1992.2L474.5 1991.2L476.0 1990.6L477.5 1990.4L479.0 1990.9L480.5 1991.8L482.0 1992.8L483.5 1993.4L485.0 1993.6L486.5 1993.1L488.0 1992.2L489.5 1991.2L491.0 1990.6L492.5 1990.4L494.0 1990.9L495.5 1991.8L497.0 1992.8L498.5 1993.4L500.0 1993.6L501.5 1993.1L503.0 1992.2L504.5 1991.2L506.0 1990.6L507.5 1990.4L509.0 1990.9L510.5 1991.8L512.0 1992.8L513.5 1993.4L515.0 1993.6L516.5 1993.1L518.0 1992.2L519.5 1991.2L521.0 1990.6L522.5 1990.4L524.0 1990.9L525.5 1991.8L527.0 1992.8L528.5 1993.4L530.0 1993.6L531.5 1993.1L533.0 1992.2L534.5 1991.2L536.0 1990.6L537.5 1990.4L539.0 1990.9L540.5 1991.8L542.0 1992.8L543.5 1993.4L545.0 1993.6L546.5 1993.1L548.0 1992.2L549.5 1991.2L551.0 1990.6L552.5 1990.4L554.0 1990.9L555.5 1991.8L557.0 1992.8L558.5 1993.4L560.0 1993.6L561.5 1993.1L563.0 1992.2L564.5 1991.2L566.0 1990.6L567.5 1990.4L569.0 1990.9L570.5 1991.8L572.0 1992.8L573.5 1993.4L575.0 1993.6L576.5 1993.1L578.0 1992.2L579.5 1991.2L581.0 1990.6L582.5 1990.4L584.0 1990.9L585.5 1991.8L587.0 1992.8L588.5 1993.4L590.0 1993.6L591.5 1993.1L593.0 1992.2L594.5 1991.2L596.0 1990.6L597.5 1990.4L599.0 1990.9" fill="none" stroke="#333" stroke-width="0.90" stroke-linejoin="round" stroke-dasharray="3 2.5" />
<path d="M560.0 1988.9L561.5 1988.9L563.0 1989.0L564.5 1989.0L566.0 1989.1L567.5 1989.1L569.0 1989.1L570.5 1989.1L572.0 1988.9L573.5 1988.8L575.0 1988.6L576.5 1988.5L578.0 1988.4L579.5 1988.3L581.0 1988.4L582.5 1988.5L584.0 1988.7L585.5 1989.0L587.0 1989.3L588.5 1989.6L590.0 1989.8L591.5 1989.8L593.0 1989.8L594.5 1989.6L596.0 1989.3L597.5 1988.9L599.0 1988.5L600.5 1988.1L602.0 1987.8L603.5 1987.7L605.0 1987.8L606.5 1988.0L608.0 1988.3L609.5 1988.7L611.0 1989.2L612.5 1989.6L614.0 1989.9L615.5 1990.1L617.0 1990.1L618.5 1989.9L620.0 1989.6L621.5 1989.2L623.0 1988.7L624.5 1988.3L626.0 1988.0L627.5 1987.8L629.0 1987.7L630.5 1987.8L632.0 1988.1L633.5 1988.5L635.0 1988.9L636.5 1989.3L638.0 1989.7L639.5 1990.0L641.0 1990.1L642.5 1990.0L644.0 1989.8L645.5 1989.5L647.0 1989.1L648.5 1988.6L650.0 1988.2L651.5 1987.9L653.0 1987.7L654.5 1987.7L656.0 1987.9L657.5 1988.2L659.0 1988.6L660.5 1989.1L662.0 1989.5L663.5 1989.8L665.0 1990.0L666.5 1990.1L668.0 1990.0L669.5 1989.7L671.0 1989.3L672.5 1988.9L674.0 1988.5L675.5 1988.1L677.0 1987.8L678.5 1987.7L680.0 1987.8L681.5 1988.0L683.0 1988.3" fill="none" stroke="#5050e0" stroke-width="0.70" stroke-linejoin="round" stroke-dasharray="4 2 1 2" />
<path d="M560.0 1991.9L630.0 1992.4L650.0 1994.9L683.0 1995.9" fill="none" stroke="#5050e0" stroke-width="0.70" stroke-linejoin="round" stroke-dasharray="4 2 1 2" />
<path d="M399.9 1990.3C400.6 1989.3 403.8 1985.8 405.3 1983.3C406.9 1980.7 409.6 1975.4 410.8 1972.3C412.0 1969.2 413.3 1962.6 414.1 1961.4C414.9 1960.1 415.5 1964.5 416.3 1963.6C417.1 1962.6 418.7 1955.7 419.6 1954.8C420.4 1953.9 421.6 1957.8 422.4 1957.0C423.2 1956.2 424.2 1952.0 425.0 1949.3C425.9 1946.7 427.4 1939.3 428.3 1938.4C429.2 1937.5 430.7 1942.1 431.6 1942.8C432.5 1943.4 434.0 1941.4 434.9 1942.8C435.8 1944.2 437.4 1950.9 438.2 1952.6C438.9 1954.3 439.7 1953.1 440.4 1954.8C441.0 1956.5 442.2 1965.3 443.0 1964.7C443.8 1964.0 445.2 1952.1 445.8 1950.4C446.5 1948.7 447.0 1954.3 447.6 1952.6C448.2 1950.9 449.4 1938.2 450.2 1938.4C451.0 1938.5 452.3 1954.2 453.1 1953.7C453.8 1953.2 454.6 1940.7 455.3 1935.1C455.9 1929.5 457.1 1915.7 457.9 1914.3C458.6 1912.9 459.9 1923.9 460.5 1925.2C461.1 1926.6 461.5 1922.6 462.3 1924.2C463.0 1925.7 464.7 1935.1 465.5 1936.2C466.4 1937.3 467.6 1934.3 468.4 1931.8C469.2 1929.3 470.3 1917.6 471.0 1918.7C471.7 1919.8 472.4 1933.1 473.2 1939.5C474.0 1945.9 476.0 1963.4 476.9 1964.0C477.9 1964.6 479.1 1946.1 479.8 1943.9C480.5 1941.6 481.2 1950.1 482.0 1948.2C482.7 1946.4 484.3 1934.8 485.2 1930.7C486.2 1926.7 488.1 1919.2 489.0 1919.8C489.8 1920.4 490.6 1931.5 491.2 1935.1C491.7 1938.7 492.4 1945.0 492.9 1945.0C493.5 1945.0 494.5 1937.4 495.1 1935.1C495.7 1932.8 496.5 1933.2 497.3 1928.5C498.1 1923.9 499.9 1902.3 500.6 1902.3C501.3 1902.3 501.8 1920.9 502.3 1928.5C502.9 1936.1 503.7 1955.0 504.3 1955.9C504.9 1956.8 505.9 1943.0 506.5 1935.1C507.1 1927.2 508.1 1907.9 508.7 1900.1C509.3 1892.3 510.2 1879.9 510.9 1879.9C511.5 1879.9 512.4 1894.7 513.1 1900.1C513.7 1905.4 514.4 1913.7 515.2 1917.6C516.1 1921.5 517.9 1930.5 518.7 1927.4C519.6 1924.3 520.3 1907.3 520.9 1895.7C521.6 1884.1 522.9 1848.4 523.6 1845.3C524.2 1842.2 524.8 1865.9 525.3 1873.8C525.8 1881.7 526.7 1897.3 527.3 1901.2C527.9 1905.0 529.0 1898.1 529.7 1901.2C530.4 1904.2 531.4 1920.0 532.3 1922.8C533.1 1925.5 534.9 1920.7 535.7 1920.5C536.5 1920.4 537.3 1924.1 537.9 1921.6C538.6 1919.2 539.5 1905.0 540.2 1903.5C540.8 1902.1 541.6 1908.9 542.4 1911.5C543.2 1914.0 544.9 1922.3 545.8 1921.6C546.8 1921.0 548.4 1907.1 549.2 1906.9C550.0 1906.8 550.9 1916.7 551.5 1920.5C552.1 1924.4 553.1 1932.7 553.8 1934.1C554.4 1935.5 555.4 1929.9 556.0 1930.7C556.7 1931.5 557.5 1940.4 558.3 1939.8C559.1 1939.1 560.9 1926.7 561.7 1926.2C562.5 1925.7 563.3 1933.6 563.9 1936.4C564.6 1939.1 565.4 1945.9 566.2 1945.4C567.0 1944.9 568.8 1934.5 569.6 1933.0C570.4 1931.4 571.2 1935.6 571.9 1934.5C572.5 1933.5 573.3 1926.7 574.1 1925.5C574.9 1924.3 576.7 1923.7 577.5 1926.2C578.3 1928.7 579.1 1936.6 579.8 1943.1C580.5 1949.7 581.7 1966.2 582.5 1972.6C583.3 1979.0 584.5 1985.8 585.4 1988.4C586.3 1991.0 587.1 1990.9 588.8 1991.1C590.6 1991.4 596.0 1990.9 597.9 1990.2C599.8 1989.5 601.3 1988.3 602.4 1986.1C603.5 1984.0 605.1 1979.6 605.8 1974.8C606.5 1970.0 607.1 1956.7 607.6 1952.2C608.1 1947.7 608.8 1942.5 609.2 1943.1C609.7 1943.8 610.3 1951.9 610.8 1956.7C611.3 1961.5 611.9 1972.9 612.6 1977.1C613.3 1981.3 614.6 1985.8 615.5 1986.1C616.5 1986.5 618.4 1980.1 619.4 1979.4C620.4 1978.6 621.8 1981.2 622.8 1981.2C623.7 1981.2 625.2 1980.0 626.2 1979.4C627.1 1978.7 628.6 1976.6 629.6 1976.6C630.5 1976.6 632.0 1979.6 633.0 1979.4C633.9 1979.1 635.5 1977.1 636.4 1974.8C637.2 1972.6 638.4 1965.8 639.1 1963.5C639.7 1961.2 640.3 1958.2 640.9 1958.5C641.5 1958.9 642.3 1962.8 643.1 1965.8C643.9 1968.7 645.6 1977.3 646.5 1979.4C647.5 1981.4 649.0 1979.7 649.9 1980.5C650.9 1981.3 652.4 1983.7 653.3 1985.0C654.3 1986.3 655.6 1988.7 656.7 1989.5C657.8 1990.4 660.6 1990.9 661.3 1991.1" fill="none" stroke="#e04444" stroke-width="1.00" stroke-linejoin="round" />
<path d="M399.9 1990.3C400.6 1991.0 403.8 1993.4 405.3 1995.3C406.9 1997.3 409.6 2001.6 410.8 2004.1C412.0 2006.6 413.2 2010.5 414.1 2012.8C414.9 2015.2 416.0 2020.0 416.7 2020.5C417.4 2021.0 418.3 2015.4 419.1 2016.1C420.0 2016.9 421.9 2024.4 422.8 2026.0C423.8 2027.5 425.4 2025.8 426.1 2027.1C426.9 2028.3 427.8 2032.3 428.3 2034.7C428.9 2037.2 429.4 2044.9 430.1 2044.6C430.7 2044.3 432.0 2035.2 432.7 2032.6C433.4 2029.9 434.6 2025.5 435.3 2025.5C436.0 2025.5 437.0 2033.4 437.7 2032.6C438.5 2031.7 440.0 2019.9 440.8 2019.4C441.6 2018.9 442.8 2029.4 443.6 2029.3C444.5 2029.1 446.1 2017.5 446.9 2018.3C447.8 2019.1 448.8 2032.1 449.6 2034.7C450.3 2037.4 451.6 2035.5 452.4 2036.9C453.2 2038.3 454.3 2043.8 455.0 2044.6C455.8 2045.4 457.2 2040.4 457.9 2042.4C458.6 2044.4 459.5 2055.3 460.1 2058.8C460.6 2062.4 461.1 2068.5 461.6 2067.6C462.1 2066.7 463.2 2052.7 463.8 2052.3C464.3 2051.8 464.9 2064.3 465.5 2064.3C466.2 2064.3 467.6 2055.0 468.4 2052.3C469.2 2049.5 470.7 2044.3 471.5 2044.6C472.2 2044.9 472.9 2056.8 473.6 2054.4C474.4 2052.1 475.8 2033.0 476.5 2028.2C477.2 2023.4 478.1 2022.1 478.7 2020.5C479.3 2019.0 480.2 2015.8 480.9 2017.2C481.5 2018.6 482.4 2028.2 483.1 2030.4C483.7 2032.5 484.6 2030.1 485.2 2032.6C485.9 2035.0 486.9 2044.2 487.4 2047.9C488.0 2051.6 488.6 2058.5 489.2 2058.8C489.8 2059.1 491.1 2050.2 491.8 2050.1C492.5 2049.9 493.3 2060.1 494.0 2057.7C494.7 2055.4 495.9 2036.0 496.6 2033.6C497.4 2031.3 498.7 2039.3 499.5 2041.3C500.3 2043.3 501.5 2043.2 502.1 2047.9C502.7 2052.5 503.4 2068.6 503.9 2074.2C504.3 2079.7 504.9 2090.4 505.4 2087.3C505.9 2084.2 506.6 2060.7 507.1 2052.3C507.7 2043.8 508.7 2027.1 509.3 2027.7C510.0 2028.4 510.9 2047.3 511.5 2056.6C512.1 2066.0 513.2 2087.0 513.7 2093.9C514.2 2100.7 514.6 2107.1 515.2 2105.2C515.9 2103.4 517.3 2088.2 518.1 2080.7C518.9 2073.2 520.3 2057.5 520.9 2052.3C521.6 2047.0 522.3 2041.3 522.9 2043.5C523.5 2045.7 524.5 2058.0 525.1 2067.6C525.7 2077.2 526.4 2102.6 526.9 2111.4C527.3 2120.1 527.9 2128.1 528.4 2129.3C528.8 2130.6 529.5 2126.4 530.0 2120.3C530.5 2114.2 531.2 2091.5 531.8 2086.4C532.4 2081.2 533.4 2086.3 534.1 2084.1C534.7 2081.9 535.7 2074.7 536.3 2070.5C537.0 2066.4 537.9 2055.6 538.6 2054.7C539.3 2053.7 540.5 2060.8 541.3 2063.7C542.1 2066.6 543.3 2072.0 544.0 2075.0C544.7 2078.1 545.7 2086.5 546.3 2085.2C546.9 2083.9 547.9 2069.6 548.6 2066.0C549.2 2062.4 550.2 2058.1 550.8 2059.7C551.5 2061.3 552.5 2073.0 553.1 2077.3C553.7 2081.6 554.3 2091.4 554.9 2089.8C555.5 2088.2 556.5 2072.2 557.2 2066.0C557.8 2059.7 558.8 2048.2 559.4 2045.6C560.1 2043.1 561.0 2048.0 561.7 2047.9C562.4 2047.8 563.6 2044.9 564.4 2045.2C565.2 2045.4 566.6 2048.7 567.3 2049.7C568.1 2050.7 568.8 2052.7 569.6 2052.4C570.4 2052.2 572.0 2048.9 573.0 2047.9C574.0 2046.9 575.9 2044.2 576.8 2045.2C577.8 2046.1 578.9 2050.9 579.8 2054.7C580.7 2058.4 582.4 2071.6 583.2 2071.6C584.0 2071.6 584.8 2060.6 585.4 2054.7C586.1 2048.7 587.1 2034.9 587.7 2029.8C588.3 2024.7 589.3 2022.3 590.0 2018.5C590.6 2014.6 591.6 2006.0 592.2 2002.6C592.9 1999.3 593.7 1996.3 594.5 1994.7C595.3 1993.1 596.4 1992.0 597.9 1991.3C599.3 1990.7 602.1 1990.2 604.7 1990.2C607.2 1990.2 613.9 1991.0 616.0 1991.3C618.1 1991.6 618.6 1991.5 619.4 1992.4C620.2 1993.4 621.1 1994.7 621.6 1998.1C622.2 2001.5 622.8 2008.5 623.2 2016.2C623.7 2023.9 624.6 2043.9 625.0 2052.4C625.5 2060.9 626.2 2076.8 626.6 2076.2C627.0 2075.5 627.6 2057.7 628.0 2047.9C628.4 2038.1 629.1 2014.8 629.6 2007.2C630.1 1999.5 630.7 1995.8 631.4 1993.6C632.0 1991.3 632.7 1991.8 634.1 1991.3C635.4 1990.8 639.3 1990.2 640.9 1990.2C642.5 1990.2 644.4 1990.4 645.4 1991.3C646.4 1992.3 647.4 1995.2 648.1 1997.0C648.8 1998.7 649.7 2002.2 650.4 2003.8C651.0 2005.4 651.9 2008.4 652.7 2008.3C653.4 2008.1 654.5 2003.6 655.6 2002.6C656.7 2001.7 659.0 2001.1 660.1 2001.5C661.2 2001.9 662.4 2004.3 663.5 2005.3C664.6 2006.4 666.9 2009.2 668.0 2009.0C669.2 2008.7 670.7 2005.0 671.4 2003.8C672.2 2002.5 672.6 1999.6 673.2 2000.4C673.9 2001.2 675.3 2007.0 676.0 2009.4C676.7 2011.8 677.5 2017.0 678.2 2017.3C679.0 2017.7 680.4 2014.1 681.2 2011.7C682.0 2009.3 683.5 2002.0 683.9 2000.4" fill="none" stroke="#e04444" stroke-width="1.00" stroke-linejoin="round" />
<path d="M162.8 1989.9C164.4 1989.8 171.3 1989.6 173.8 1989.3C176.3 1988.9 178.7 1988.0 180.4 1987.7C182.1 1987.4 184.4 1986.8 185.8 1987.1C187.2 1987.3 188.8 1989.2 190.2 1989.3C191.6 1989.3 194.3 1987.7 195.7 1987.5C197.1 1987.3 198.5 1988.0 200.1 1988.2C201.6 1988.3 204.9 1989.1 206.6 1988.8C208.3 1988.6 210.6 1986.5 212.1 1986.4C213.7 1986.3 215.9 1988.3 217.6 1988.4C219.3 1988.5 222.3 1987.4 224.2 1987.1C226.0 1986.7 229.2 1985.8 230.7 1986.0C232.3 1986.1 233.9 1987.7 235.1 1988.2C236.3 1988.6 238.2 1989.0 239.5 1989.3C240.7 1989.5 242.6 1989.9 243.9 1989.7C245.1 1989.4 247.2 1987.5 248.2 1987.5C249.3 1987.5 251.1 1989.6 251.5 1989.9" fill="none" stroke="#e04444" stroke-width="1.00" stroke-linejoin="round" />
<path d="M162.8 1989.9C164.4 1990.0 171.3 1990.3 173.8 1990.6C176.3 1990.8 178.7 1991.6 180.4 1991.9C182.1 1992.2 184.4 1992.9 185.8 1992.8C187.2 1992.6 188.8 1991.1 190.2 1991.0C191.6 1990.9 194.3 1992.2 195.7 1992.3C197.1 1992.4 198.5 1992.0 200.1 1991.9C201.6 1991.8 204.9 1991.0 206.6 1991.4C208.3 1991.9 210.6 1994.8 212.1 1994.9C213.7 1995.1 215.9 1992.7 217.6 1992.5C219.3 1992.4 222.3 1993.3 224.2 1993.6C226.0 1994.0 229.2 1995.2 230.7 1994.9C232.3 1994.7 233.9 1992.4 235.1 1991.9C236.3 1991.3 238.2 1991.2 239.5 1991.0C240.7 1990.8 242.6 1990.1 243.9 1990.4C245.1 1990.6 247.2 1992.8 248.2 1992.8C249.3 1992.7 251.1 1990.3 251.5 1989.9" fill="none" stroke="#e04444" stroke-width="1.00" stroke-linejoin="round" />
</g>
<path d="M112.1 1990.5L683.6 1990.5" fill="none" stroke="#3a3ac8" stroke-width="0.70" stroke-linejoin="round" stroke-dasharray="5 2.2 1.2 2.2" opacity="0.7"/>
<path d="M627.8 1769.0L627.8 2211.6" stroke="#111" stroke-width="1.40"/>
<rect x="112.1" y="1769.0" width="571.5" height="442.6" fill="none" stroke="#111" stroke-width="1.30"/>
<path d="M106.3 2211.4L112.1 2211.4" stroke="#111" stroke-width="1.10"/>
<text x="102.7" y="2219.0" font-family='"Liberation Serif", serif' font-size="23.0" text-anchor="end" fill="#111" >1.0</text>
<path d="M108.6 2189.3L112.1 2189.3" stroke="#111" stroke-width="1.10"/>
<path d="M106.3 2167.2L112.1 2167.2" stroke="#111" stroke-width="1.10"/>
<text x="102.7" y="2174.8" font-family='"Liberation Serif", serif' font-size="23.0" text-anchor="end" fill="#111" >0.8</text>
<path d="M108.6 2145.1L112.1 2145.1" stroke="#111" stroke-width="1.10"/>
<path d="M106.3 2123.0L112.1 2123.0" stroke="#111" stroke-width="1.10"/>
<text x="102.7" y="2130.6" font-family='"Liberation Serif", serif' font-size="23.0" text-anchor="end" fill="#111" >0.6</text>
<path d="M108.6 2100.9L112.1 2100.9" stroke="#111" stroke-width="1.10"/>
<path d="M106.3 2078.8L112.1 2078.8" stroke="#111" stroke-width="1.10"/>
<text x="102.7" y="2086.4" font-family='"Liberation Serif", serif' font-size="23.0" text-anchor="end" fill="#111" >0.4</text>
<path d="M108.6 2056.7L112.1 2056.7" stroke="#111" stroke-width="1.10"/>
<path d="M106.3 2034.6L112.1 2034.6" stroke="#111" stroke-width="1.10"/>
<text x="102.7" y="2042.2" font-family='"Liberation Serif", serif' font-size="23.0" text-anchor="end" fill="#111" >0.2</text>
<path d="M108.6 2012.5L112.1 2012.5" stroke="#111" stroke-width="1.10"/>
<path d="M106.3 1990.4L112.1 1990.4" stroke="#111" stroke-width="1.10"/>
<text x="102.7" y="1998.0" font-family='"Liberation Serif", serif' font-size="23.0" text-anchor="end" fill="#111" >0.0</text>
<path d="M108.6 1968.3L112.1 1968.3" stroke="#111" stroke-width="1.10"/>
<path d="M106.3 1946.2L112.1 1946.2" stroke="#111" stroke-width="1.10"/>
<text x="102.7" y="1953.8" font-family='"Liberation Serif", serif' font-size="23.0" text-anchor="end" fill="#111" >0.2</text>
<path d="M108.6 1924.1L112.1 1924.1" stroke="#111" stroke-width="1.10"/>
<path d="M106.3 1902.0L112.1 1902.0" stroke="#111" stroke-width="1.10"/>
<text x="102.7" y="1909.6" font-family='"Liberation Serif", serif' font-size="23.0" text-anchor="end" fill="#111" >0.4</text>
<path d="M108.6 1879.9L112.1 1879.9" stroke="#111" stroke-width="1.10"/>
<path d="M106.3 1857.8L112.1 1857.8" stroke="#111" stroke-width="1.10"/>
<text x="102.7" y="1865.4" font-family='"Liberation Serif", serif' font-size="23.0" text-anchor="end" fill="#111" >0.6</text>
<path d="M108.6 1835.7L112.1 1835.7" stroke="#111" stroke-width="1.10"/>
<path d="M106.3 1813.6L112.1 1813.6" stroke="#111" stroke-width="1.10"/>
<text x="102.7" y="1821.2" font-family='"Liberation Serif", serif' font-size="23.0" text-anchor="end" fill="#111" >0.8</text>
<path d="M108.6 1791.5L112.1 1791.5" stroke="#111" stroke-width="1.10"/>
<path d="M106.3 1769.4L112.1 1769.4" stroke="#111" stroke-width="1.10"/>
<text x="102.7" y="1777.0" font-family='"Liberation Serif", serif' font-size="23.0" text-anchor="end" fill="#111" >1.0</text>
<path d="M112.1 2211.6L112.1 2218.2" stroke="#111" stroke-width="1.10"/>
<text x="112.1" y="2241.6" font-family='"Liberation Serif", serif' font-size="24.0" text-anchor="middle" fill="#111" >-14</text>
<path d="M148.9 2211.6L148.9 2215.3" stroke="#111" stroke-width="1.10"/>
<path d="M185.8 2211.6L185.8 2218.2" stroke="#111" stroke-width="1.10"/>
<text x="185.8" y="2241.6" font-family='"Liberation Serif", serif' font-size="24.0" text-anchor="middle" fill="#111" >-12</text>
<path d="M222.6 2211.6L222.6 2215.3" stroke="#111" stroke-width="1.10"/>
<path d="M259.4 2211.6L259.4 2218.2" stroke="#111" stroke-width="1.10"/>
<text x="259.4" y="2241.6" font-family='"Liberation Serif", serif' font-size="24.0" text-anchor="middle" fill="#111" >-10</text>
<path d="M296.3 2211.6L296.3 2215.3" stroke="#111" stroke-width="1.10"/>
<path d="M333.1 2211.6L333.1 2218.2" stroke="#111" stroke-width="1.10"/>
<text x="333.1" y="2241.6" font-family='"Liberation Serif", serif' font-size="24.0" text-anchor="middle" fill="#111" >-8</text>
<path d="M369.9 2211.6L369.9 2215.3" stroke="#111" stroke-width="1.10"/>
<path d="M406.8 2211.6L406.8 2218.2" stroke="#111" stroke-width="1.10"/>
<text x="406.8" y="2241.6" font-family='"Liberation Serif", serif' font-size="24.0" text-anchor="middle" fill="#111" >-6</text>
<path d="M443.6 2211.6L443.6 2215.3" stroke="#111" stroke-width="1.10"/>
<path d="M480.5 2211.6L480.5 2218.2" stroke="#111" stroke-width="1.10"/>
<text x="480.5" y="2241.6" font-family='"Liberation Serif", serif' font-size="24.0" text-anchor="middle" fill="#111" >-4</text>
<path d="M517.3 2211.6L517.3 2215.3" stroke="#111" stroke-width="1.10"/>
<path d="M554.1 2211.6L554.1 2218.2" stroke="#111" stroke-width="1.10"/>
<text x="554.1" y="2241.6" font-family='"Liberation Serif", serif' font-size="24.0" text-anchor="middle" fill="#111" >-2</text>
<path d="M591.0 2211.6L591.0 2215.3" stroke="#111" stroke-width="1.10"/>
<path d="M627.8 2211.6L627.8 2218.2" stroke="#111" stroke-width="1.10"/>
<text x="627.8" y="2241.6" font-family='"Liberation Serif", serif' font-size="24.0" text-anchor="middle" fill="#111" >0</text>
<path d="M664.6 2211.6L664.6 2215.3" stroke="#111" stroke-width="1.10"/>
<text x="398.0" y="2283.4" font-family='"Liberation Serif", serif' font-size="24.3" text-anchor="middle" fill="#111" >E(eV)</text>
<text transform="translate(43.5 2005.6) rotate(-90)" font-family='"Liberation Serif", serif' font-size="34.0" text-anchor="middle" fill="#111">Local Density of States (1/eV)</text>
<text x="596.6" y="1804.5" font-family='"Liberation Serif", serif' font-size="33.5" text-anchor="start" fill="#111" >E</text>
<text x="614.8" y="1818.0" font-family='"Liberation Serif", serif' font-size="20.0" text-anchor="start" fill="#111" >F</text>
<rect x="310.1" y="1777.0" width="96.7" height="158.2" fill="#fff" stroke="#111" stroke-width="1.3"/>
<path d="M310.1 1935.6L407.4 1935.6" stroke="#111" stroke-width="1.40"/>
<path d="M319.2 1808.5L378.3 1808.5" fill="none" stroke="#444" stroke-width="1.00" stroke-linejoin="round" stroke-dasharray="3.2 2.6" />
<path d="M319.2 1840.5L378.3 1840.5" fill="none" stroke="#e05a5a" stroke-width="1.20" stroke-linejoin="round" />
<path d="M319.2 1871.5L378.3 1871.5" fill="none" stroke="#4ae04a" stroke-width="1.00" stroke-linejoin="round" stroke-dasharray="1 2.6" />
<path d="M319.2 1903.5L378.3 1903.5" fill="none" stroke="#4a4adf" stroke-width="1.00" stroke-linejoin="round" stroke-dasharray="5 2.2 1.2 2.2" />
<text x="385.6" y="1816.1" font-family='"Liberation Sans", sans-serif' font-size="25.5" text-anchor="start" fill="#111" font-style="italic" >s</text>
<text x="385.6" y="1848.1" font-family='"Liberation Sans", sans-serif' font-size="25.5" text-anchor="start" fill="#111" font-style="italic" >p</text>
<text x="385.6" y="1879.1" font-family='"Liberation Sans", sans-serif' font-size="25.5" text-anchor="start" fill="#111" font-style="italic" >d</text>
<text x="385.6" y="1911.1" font-family='"Liberation Sans", sans-serif' font-size="25.5" text-anchor="start" fill="#111" font-style="italic" >f</text></svg></body></html>
